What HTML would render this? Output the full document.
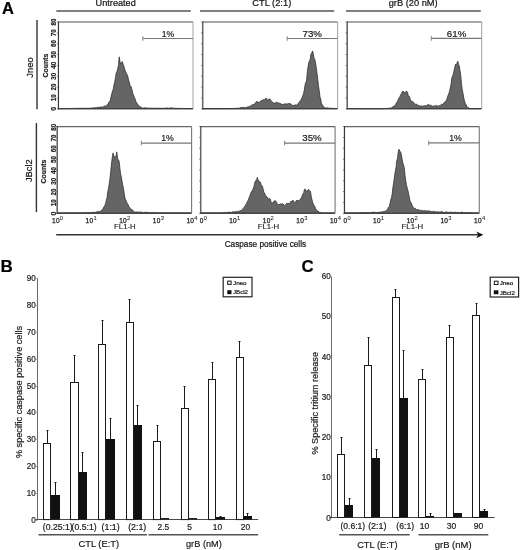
<!DOCTYPE html>
<html><head><meta charset="utf-8"><style>
html,body{margin:0;padding:0;background:#fff;}
svg{display:block;font-family:"Liberation Sans", sans-serif;}
text{-webkit-font-smoothing:antialiased;}
body{will-change:transform;}
svg{filter:blur(0.3px);}
</style></head><body>
<svg width="520" height="550" viewBox="0 0 520 550">
<rect width="520" height="550" fill="#fff"/>
<text x="1.9" y="13.7" font-size="16.5" text-anchor="start" font-weight="bold" fill="#000" stroke="#000" stroke-width="0.2" >A</text>
<text x="95.6" y="6.4" font-size="9.2" text-anchor="start" font-weight="normal" fill="#111" stroke="#111" stroke-width="0.2" textLength="40.2" lengthAdjust="spacingAndGlyphs" >Untreated</text>
<text x="252.25" y="6.4" font-size="9.2" text-anchor="start" font-weight="normal" fill="#111" stroke="#111" stroke-width="0.2" textLength="39.0" lengthAdjust="spacingAndGlyphs" >CTL (2:1)</text>
<text x="388.65" y="6.4" font-size="9.2" text-anchor="start" font-weight="normal" fill="#111" stroke="#111" stroke-width="0.2" textLength="49.0" lengthAdjust="spacingAndGlyphs" >grB (20 nM)</text>
<line x1="56.3" y1="11" x2="190.8" y2="11" stroke="#555" stroke-width="1.5"/>
<line x1="200" y1="11" x2="334.2" y2="11" stroke="#555" stroke-width="1.5"/>
<line x1="346" y1="11" x2="480.8" y2="11" stroke="#555" stroke-width="1.5"/>
<text transform="translate(33.3,67.5) rotate(-90)" font-size="9" text-anchor="middle" font-weight="normal" fill="#111" stroke="#111" stroke-width="0.2" textLength="20.4" lengthAdjust="spacingAndGlyphs" >Jneo</text>
<text transform="translate(32.3,170.7) rotate(-90)" font-size="9" text-anchor="middle" font-weight="normal" fill="#111" stroke="#111" stroke-width="0.2" textLength="22.8" lengthAdjust="spacingAndGlyphs" >JBcl2</text>
<line x1="37" y1="20" x2="37" y2="109.2" stroke="#333" stroke-width="1.4"/>
<line x1="36.4" y1="123" x2="36.4" y2="212.2" stroke="#333" stroke-width="1.4"/>
<path d="M58.5,108.8 L58.50,108.60 L59.25,108.59 L60.00,108.58 L60.75,108.57 L61.50,108.56 L62.25,108.55 L63.00,108.55 L63.75,108.54 L64.50,108.53 L65.25,108.52 L66.00,108.51 L66.75,108.50 L67.50,108.49 L68.25,108.48 L69.00,108.47 L69.75,108.46 L70.50,108.45 L71.25,108.45 L72.00,108.44 L72.75,108.43 L73.50,108.42 L74.25,108.41 L75.00,108.40 L75.75,108.39 L76.50,108.38 L77.25,108.37 L78.00,108.36 L78.75,108.35 L79.50,108.34 L80.25,108.33 L81.00,108.32 L81.75,108.31 L82.50,108.30 L83.25,108.29 L84.00,108.28 L84.75,108.27 L85.50,108.26 L86.25,108.25 L87.00,108.24 L87.75,108.23 L88.50,108.22 L89.25,108.21 L90.00,108.20 L90.75,108.15 L91.50,108.09 L92.25,108.04 L93.00,107.85 L93.75,107.66 L94.50,107.99 L95.25,107.49 L96.00,107.79 L96.75,107.61 L97.50,107.29 L98.25,107.57 L99.00,107.12 L99.75,107.35 L100.50,106.98 L101.25,106.92 L102.00,107.11 L102.75,107.34 L103.50,106.38 L104.25,106.08 L105.00,106.06 L105.75,105.99 L106.50,105.27 L107.25,104.72 L108.00,104.31 L108.75,102.24 L109.50,102.12 L110.25,100.23 L111.00,96.97 L111.75,93.85 L112.50,91.13 L113.25,89.13 L114.00,84.67 L114.75,81.65 L115.50,77.58 L116.25,72.81 L117.00,71.42 L117.75,68.82 L118.50,64.74 L119.25,56.80 L120.00,61.98 L120.75,63.83 L121.50,62.95 L122.25,61.51 L123.00,64.07 L123.75,65.72 L124.50,68.26 L125.25,71.12 L126.00,72.48 L126.75,74.28 L127.50,74.88 L128.25,78.61 L129.00,81.34 L129.75,83.85 L130.50,87.14 L131.25,86.75 L132.00,89.85 L132.75,93.36 L133.50,94.93 L134.25,97.34 L135.00,98.58 L135.75,101.16 L136.50,102.52 L137.25,103.55 L138.00,105.10 L138.75,105.46 L139.50,106.30 L140.25,106.70 L141.00,107.17 L141.75,107.57 L142.50,108.00 L143.25,108.13 L144.00,107.81 L144.75,108.00 L145.50,107.59 L146.25,108.12 L147.00,108.01 L147.75,108.06 L148.50,108.11 L149.25,108.15 L150.00,108.20 L150.75,108.20 L151.50,108.21 L152.25,108.22 L153.00,108.22 L153.75,108.22 L154.50,108.23 L155.25,108.23 L156.00,108.24 L156.75,108.25 L157.50,108.25 L158.25,108.25 L159.00,108.26 L159.75,108.27 L160.50,108.27 L161.25,108.28 L162.00,108.28 L162.75,108.28 L163.50,108.29 L164.25,108.30 L165.00,108.30 L165.75,108.00 L166.50,107.81 L167.25,107.99 L168.00,108.15 L168.75,108.20 L169.50,108.22 L170.25,108.09 L171.00,107.80 L171.75,107.75 L172.50,108.05 L173.25,108.11 L174.00,108.30 L174.75,108.31 L175.50,108.32 L176.25,108.34 L177.00,108.35 L177.75,108.36 L178.50,108.37 L179.25,108.38 L180.00,108.39 L180.75,108.41 L181.50,108.42 L182.25,108.43 L183.00,108.44 L183.75,108.45 L184.50,108.47 L185.25,108.48 L186.00,108.49 L186.75,108.50 L187.50,108.51 L188.25,108.52 L189.00,108.54 L189.75,108.55 L190.50,108.56 L191.25,108.57 L192.00,108.58 L192.75,108.60 L192.8,108.8 Z" fill="#656565" stroke="#2a2a2a" stroke-width="0.75" stroke-linejoin="round"/>
<path d="M203.0,108.8 L203.00,108.60 L203.75,108.60 L204.50,108.60 L205.25,108.60 L206.00,108.60 L206.75,108.60 L207.50,108.60 L208.25,108.60 L209.00,108.60 L209.75,108.60 L210.50,108.60 L211.25,108.60 L212.00,108.60 L212.75,108.60 L213.50,108.60 L214.25,108.60 L215.00,108.60 L215.75,108.60 L216.50,108.60 L217.25,108.60 L218.00,108.60 L218.75,108.60 L219.50,108.60 L220.25,108.60 L221.00,108.60 L221.75,108.60 L222.50,108.60 L223.25,108.60 L224.00,108.60 L224.75,108.60 L225.50,108.60 L226.25,108.60 L227.00,108.60 L227.75,108.60 L228.50,108.60 L229.25,108.60 L230.00,108.60 L230.75,108.57 L231.50,108.53 L232.25,108.50 L233.00,108.47 L233.75,108.44 L234.50,108.40 L235.25,108.37 L236.00,108.34 L236.75,108.31 L237.50,108.27 L238.25,108.24 L239.00,108.21 L239.75,108.01 L240.50,107.54 L241.25,107.85 L242.00,107.15 L242.75,107.67 L243.50,107.25 L244.25,107.44 L245.00,108.09 L245.75,107.27 L246.50,107.42 L247.25,107.08 L248.00,106.88 L248.75,106.72 L249.50,106.26 L250.25,106.47 L251.00,105.43 L251.75,105.18 L252.50,104.59 L253.25,104.44 L254.00,104.21 L254.75,104.08 L255.50,102.77 L256.25,101.70 L257.00,101.11 L257.75,102.79 L258.50,102.35 L259.25,102.36 L260.00,101.46 L260.75,101.19 L261.50,100.30 L262.25,100.39 L263.00,99.77 L263.75,99.62 L264.50,99.60 L265.25,98.88 L266.00,98.00 L266.75,98.41 L267.50,100.61 L268.25,100.34 L269.00,98.89 L269.75,98.91 L270.50,99.58 L271.25,101.13 L272.00,102.15 L272.75,102.04 L273.50,102.73 L274.25,103.89 L275.00,102.81 L275.75,103.02 L276.50,102.04 L277.25,102.72 L278.00,102.73 L278.75,103.01 L279.50,103.28 L280.25,103.50 L281.00,103.77 L281.75,104.34 L282.50,104.62 L283.25,104.35 L284.00,103.64 L284.75,104.25 L285.50,103.64 L286.25,104.04 L287.00,103.75 L287.75,103.90 L288.50,103.49 L289.25,103.65 L290.00,103.40 L290.75,103.91 L291.50,104.39 L292.25,105.36 L293.00,105.85 L293.75,105.06 L294.50,105.16 L295.25,104.82 L296.00,105.18 L296.75,105.37 L297.50,103.90 L298.25,103.74 L299.00,102.47 L299.75,101.18 L300.50,100.94 L301.25,99.24 L302.00,97.83 L302.75,95.99 L303.50,93.41 L304.25,90.47 L305.00,85.27 L305.75,82.16 L306.50,81.04 L307.25,72.69 L308.00,67.12 L308.75,62.87 L309.50,60.64 L310.25,58.96 L311.00,53.68 L311.75,53.24 L312.50,50.92 L313.25,53.37 L314.00,58.14 L314.75,59.18 L315.50,62.87 L316.25,67.68 L317.00,73.13 L317.75,79.55 L318.50,85.97 L319.25,91.12 L320.00,97.11 L320.75,99.17 L321.50,103.64 L322.25,104.62 L323.00,106.19 L323.75,106.41 L324.50,107.89 L325.25,107.83 L326.00,108.10 L326.75,107.89 L327.50,107.68 L328.25,108.02 L329.00,108.12 L329.75,108.21 L330.50,108.25 L331.25,108.28 L332.00,108.32 L332.75,108.36 L333.50,108.40 L334.25,108.44 L335.00,108.48 L335.75,108.52 L336.50,108.55 L337.25,108.59 L337.2,108.8 Z" fill="#656565" stroke="#2a2a2a" stroke-width="0.75" stroke-linejoin="round"/>
<path d="M347.5,108.8 L347.50,108.60 L348.25,108.60 L349.00,108.60 L349.75,108.61 L350.50,108.61 L351.25,108.61 L352.00,108.61 L352.75,108.62 L353.50,108.62 L354.25,108.62 L355.00,108.62 L355.75,108.63 L356.50,108.63 L357.25,108.63 L358.00,108.63 L358.75,108.63 L359.50,108.64 L360.25,108.64 L361.00,108.64 L361.75,108.64 L362.50,108.65 L363.25,108.65 L364.00,108.65 L364.75,108.65 L365.50,108.66 L366.25,108.66 L367.00,108.66 L367.75,108.66 L368.50,108.66 L369.25,108.67 L370.00,108.67 L370.75,108.67 L371.50,108.67 L372.25,108.68 L373.00,108.68 L373.75,108.68 L374.50,108.68 L375.25,108.69 L376.00,108.69 L376.75,108.69 L377.50,108.69 L378.25,108.69 L379.00,108.70 L379.75,108.70 L380.50,108.68 L381.25,108.65 L382.00,108.63 L382.75,108.60 L383.50,108.57 L384.25,108.54 L385.00,108.51 L385.75,108.49 L386.50,108.46 L387.25,108.43 L388.00,108.40 L388.75,108.30 L389.50,108.19 L390.25,108.08 L391.00,107.95 L391.75,107.64 L392.50,106.95 L393.25,107.06 L394.00,105.82 L394.75,105.77 L395.50,105.10 L396.25,102.92 L397.00,102.10 L397.75,100.75 L398.50,98.47 L399.25,97.42 L400.00,96.40 L400.75,94.45 L401.50,93.58 L402.25,91.71 L403.00,91.01 L403.75,91.87 L404.50,93.03 L405.25,92.85 L406.00,91.28 L406.75,91.30 L407.50,92.12 L408.25,95.98 L409.00,95.88 L409.75,97.62 L410.50,100.34 L411.25,101.10 L412.00,101.21 L412.75,101.46 L413.50,102.44 L414.25,103.14 L415.00,103.68 L415.75,104.42 L416.50,103.99 L417.25,105.04 L418.00,105.57 L418.75,105.36 L419.50,105.99 L420.25,106.09 L421.00,105.68 L421.75,106.03 L422.50,106.46 L423.25,105.76 L424.00,106.14 L424.75,105.53 L425.50,105.77 L426.25,105.88 L427.00,105.05 L427.75,104.69 L428.50,104.62 L429.25,105.24 L430.00,104.92 L430.75,105.16 L431.50,105.72 L432.25,106.28 L433.00,106.01 L433.75,105.92 L434.50,106.04 L435.25,105.53 L436.00,105.97 L436.75,105.60 L437.50,106.00 L438.25,106.31 L439.00,105.50 L439.75,105.64 L440.50,105.27 L441.25,104.41 L442.00,104.09 L442.75,104.42 L443.50,103.93 L444.25,102.19 L445.00,102.08 L445.75,101.62 L446.50,99.40 L447.25,98.13 L448.00,95.46 L448.75,93.75 L449.50,91.28 L450.25,88.02 L451.00,84.40 L451.75,78.49 L452.50,75.91 L453.25,74.48 L454.00,70.65 L454.75,67.32 L455.50,64.31 L456.25,64.18 L457.00,63.58 L457.75,61.15 L458.50,64.21 L459.25,65.96 L460.00,70.53 L460.75,75.42 L461.50,84.06 L462.25,89.66 L463.00,93.31 L463.75,97.98 L464.50,100.93 L465.25,103.51 L466.00,104.23 L466.75,106.45 L467.50,107.19 L468.25,107.48 L469.00,108.02 L469.75,108.56 L470.50,108.60 L471.25,108.60 L472.00,108.60 L472.75,108.60 L473.50,108.60 L474.25,108.60 L475.00,108.60 L475.75,108.60 L476.50,108.60 L477.25,108.60 L478.00,108.60 L478.75,108.60 L479.50,108.60 L480.25,108.60 L481.00,108.60 L481.0,108.8 Z" fill="#656565" stroke="#2a2a2a" stroke-width="0.75" stroke-linejoin="round"/>
<path d="M57.5,213.3 L57.50,212.80 L58.25,212.80 L59.00,212.79 L59.75,212.79 L60.50,212.78 L61.25,212.78 L62.00,212.77 L62.75,212.77 L63.50,212.76 L64.25,212.76 L65.00,212.75 L65.75,212.75 L66.50,212.74 L67.25,212.74 L68.00,212.74 L68.75,212.73 L69.50,212.73 L70.25,212.72 L71.00,212.72 L71.75,212.71 L72.50,212.71 L73.25,212.70 L74.00,212.70 L74.75,212.69 L75.50,212.69 L76.25,212.68 L77.00,212.68 L77.75,212.68 L78.50,212.67 L79.25,212.67 L80.00,212.66 L80.75,212.66 L81.50,212.65 L82.25,212.65 L83.00,212.64 L83.75,212.64 L84.50,212.63 L85.25,212.63 L86.00,212.62 L86.75,212.62 L87.50,212.62 L88.25,212.61 L89.00,212.61 L89.75,212.60 L90.50,212.56 L91.25,212.55 L92.00,212.38 L92.75,212.43 L93.50,212.08 L94.25,212.48 L95.00,212.43 L95.75,212.23 L96.50,211.78 L97.25,211.97 L98.00,211.60 L98.75,211.31 L99.50,211.68 L100.25,211.50 L101.00,210.46 L101.75,210.47 L102.50,209.33 L103.25,208.20 L104.00,206.81 L104.75,205.68 L105.50,203.45 L106.25,200.85 L107.00,197.89 L107.75,191.97 L108.50,188.29 L109.25,183.81 L110.00,178.31 L110.75,171.34 L111.50,163.41 L112.25,157.69 L113.00,152.94 L113.75,155.44 L114.50,156.74 L115.25,157.02 L116.00,156.61 L116.75,151.87 L117.50,157.88 L118.25,160.22 L119.00,160.54 L119.75,167.16 L120.50,173.27 L121.25,176.82 L122.00,180.94 L122.75,185.31 L123.50,188.47 L124.25,193.94 L125.00,198.29 L125.75,199.94 L126.50,201.69 L127.25,203.70 L128.00,204.24 L128.75,206.28 L129.50,207.19 L130.25,208.38 L131.00,208.84 L131.75,210.16 L132.50,210.04 L133.25,210.61 L134.00,211.66 L134.75,212.26 L135.50,211.97 L136.25,211.99 L137.00,211.88 L137.75,211.94 L138.50,212.23 L139.25,211.92 L140.00,211.91 L140.75,212.20 L141.50,212.00 L142.25,212.41 L143.00,212.57 L143.75,212.56 L144.50,212.37 L145.25,212.30 L146.00,212.39 L146.75,212.10 L147.50,212.50 L148.25,212.53 L149.00,212.56 L149.75,212.59 L150.50,212.60 L151.25,212.61 L152.00,212.61 L152.75,212.61 L153.50,212.62 L154.25,212.62 L155.00,212.62 L155.75,212.63 L156.50,212.63 L157.25,212.63 L158.00,212.64 L158.75,212.64 L159.50,212.65 L160.25,212.65 L161.00,212.65 L161.75,212.66 L162.50,212.66 L163.25,212.66 L164.00,212.67 L164.75,212.67 L165.50,212.67 L166.25,212.68 L167.00,212.68 L167.75,212.69 L168.50,212.69 L169.25,212.69 L170.00,212.70 L170.75,212.70 L171.50,212.70 L172.25,212.71 L173.00,212.71 L173.75,212.71 L174.50,212.72 L175.25,212.72 L176.00,212.73 L176.75,212.73 L177.50,212.73 L178.25,212.74 L179.00,212.74 L179.75,212.74 L180.50,212.75 L181.25,212.75 L182.00,212.75 L182.75,212.76 L183.50,212.76 L184.25,212.77 L185.00,212.77 L185.75,212.77 L186.50,212.78 L187.25,212.78 L188.00,212.78 L188.75,212.79 L189.50,212.79 L190.25,212.79 L191.00,212.80 L191.0,213.3 Z" fill="#656565" stroke="#2a2a2a" stroke-width="0.75" stroke-linejoin="round"/>
<path d="M201.0,213.3 L201.00,212.80 L201.75,212.80 L202.50,212.80 L203.25,212.80 L204.00,212.80 L204.75,212.80 L205.50,212.80 L206.25,212.80 L207.00,212.80 L207.75,212.80 L208.50,212.80 L209.25,212.80 L210.00,212.80 L210.75,212.80 L211.50,212.80 L212.25,212.80 L213.00,212.80 L213.75,212.80 L214.50,212.80 L215.25,212.80 L216.00,212.80 L216.75,212.80 L217.50,212.80 L218.25,212.80 L219.00,212.80 L219.75,212.80 L220.50,212.76 L221.25,212.71 L222.00,212.66 L222.75,212.61 L223.50,212.55 L224.25,212.50 L225.00,212.41 L225.75,212.44 L226.50,212.67 L227.25,212.27 L228.00,212.31 L228.75,212.37 L229.50,212.06 L230.25,212.31 L231.00,212.40 L231.75,212.53 L232.50,211.85 L233.25,211.87 L234.00,211.55 L234.75,211.99 L235.50,211.75 L236.25,211.07 L237.00,211.74 L237.75,211.64 L238.50,211.28 L239.25,211.16 L240.00,210.67 L240.75,210.45 L241.50,210.62 L242.25,209.39 L243.00,208.72 L243.75,207.88 L244.50,206.41 L245.25,205.70 L246.00,204.22 L246.75,203.28 L247.50,201.28 L248.25,199.93 L249.00,197.77 L249.75,196.13 L250.50,193.88 L251.25,191.73 L252.00,191.60 L252.75,189.85 L253.50,187.71 L254.25,185.25 L255.00,181.95 L255.75,180.51 L256.50,180.68 L257.25,177.36 L258.00,179.73 L258.75,180.40 L259.50,182.66 L260.25,181.86 L261.00,184.36 L261.75,185.46 L262.50,186.20 L263.25,189.73 L264.00,192.80 L264.75,193.34 L265.50,195.89 L266.25,196.29 L267.00,196.69 L267.75,198.20 L268.50,198.95 L269.25,198.57 L270.00,198.78 L270.75,200.66 L271.50,203.40 L272.25,203.73 L273.00,202.11 L273.75,201.60 L274.50,200.99 L275.25,200.54 L276.00,201.32 L276.75,202.56 L277.50,204.94 L278.25,204.66 L279.00,204.18 L279.75,204.75 L280.50,203.79 L281.25,204.29 L282.00,203.40 L282.75,203.93 L283.50,204.37 L284.25,205.17 L285.00,205.60 L285.75,204.65 L286.50,203.23 L287.25,203.77 L288.00,203.10 L288.75,203.64 L289.50,203.60 L290.25,202.56 L291.00,200.99 L291.75,201.88 L292.50,200.38 L293.25,200.42 L294.00,202.19 L294.75,202.53 L295.50,202.14 L296.25,200.80 L297.00,199.99 L297.75,201.04 L298.50,200.79 L299.25,200.84 L300.00,199.42 L300.75,198.42 L301.50,197.85 L302.25,195.47 L303.00,193.84 L303.75,192.52 L304.50,189.26 L305.25,189.19 L306.00,190.95 L306.75,191.22 L307.50,190.74 L308.25,189.48 L309.00,189.66 L309.75,190.70 L310.50,191.51 L311.25,196.52 L312.00,199.86 L312.75,202.49 L313.50,204.48 L314.25,205.56 L315.00,206.99 L315.75,209.20 L316.50,209.70 L317.25,210.99 L318.00,211.07 L318.75,212.00 L319.50,212.27 L320.25,212.53 L321.00,212.62 L321.75,212.71 L322.50,212.80 L323.25,212.80 L324.00,212.80 L324.75,212.80 L325.50,212.80 L326.25,212.80 L327.00,212.80 L327.75,212.80 L328.50,212.80 L329.25,212.80 L330.00,212.80 L330.75,212.80 L331.50,212.80 L332.25,212.80 L333.00,212.80 L333.75,212.80 L334.50,212.80 L334.5,213.3 Z" fill="#656565" stroke="#2a2a2a" stroke-width="0.75" stroke-linejoin="round"/>
<path d="M345.0,213.3 L345.00,212.80 L345.75,212.79 L346.50,212.78 L347.25,212.77 L348.00,212.76 L348.75,212.75 L349.50,212.75 L350.25,212.74 L351.00,212.73 L351.75,212.72 L352.50,212.71 L353.25,212.70 L354.00,212.69 L354.75,212.68 L355.50,212.67 L356.25,212.67 L357.00,212.66 L357.75,212.65 L358.50,212.64 L359.25,212.63 L360.00,212.62 L360.75,212.61 L361.50,212.60 L362.25,212.59 L363.00,212.58 L363.75,212.57 L364.50,212.57 L365.25,212.56 L366.00,212.55 L366.75,212.54 L367.50,212.53 L368.25,212.52 L369.00,212.51 L369.75,212.50 L370.50,212.47 L371.25,212.59 L372.00,212.59 L372.75,212.17 L373.50,212.06 L374.25,212.32 L375.00,212.23 L375.75,212.62 L376.50,212.52 L377.25,212.44 L378.00,212.39 L378.75,212.45 L379.50,212.04 L380.25,212.24 L381.00,211.86 L381.75,212.29 L382.50,211.45 L383.25,211.90 L384.00,211.13 L384.75,211.48 L385.50,210.91 L386.25,210.39 L387.00,210.23 L387.75,208.87 L388.50,207.20 L389.25,206.45 L390.00,203.58 L390.75,199.57 L391.50,197.79 L392.25,193.43 L393.00,186.65 L393.75,182.26 L394.50,176.17 L395.25,171.54 L396.00,167.55 L396.75,160.50 L397.50,158.42 L398.25,151.51 L399.00,149.31 L399.75,151.00 L400.50,151.73 L401.25,153.90 L402.00,158.48 L402.75,162.48 L403.50,165.06 L404.25,167.78 L405.00,175.08 L405.75,180.87 L406.50,185.44 L407.25,188.06 L408.00,190.84 L408.75,194.40 L409.50,198.52 L410.25,201.60 L411.00,202.46 L411.75,204.34 L412.50,206.19 L413.25,207.24 L414.00,208.15 L414.75,208.40 L415.50,208.51 L416.25,209.70 L417.00,209.51 L417.75,209.79 L418.50,209.70 L419.25,210.09 L420.00,210.24 L420.75,210.78 L421.50,210.28 L422.25,210.73 L423.00,210.45 L423.75,210.95 L424.50,210.43 L425.25,210.69 L426.00,210.80 L426.75,211.10 L427.50,210.65 L428.25,211.05 L429.00,210.89 L429.75,211.00 L430.50,211.22 L431.25,211.69 L432.00,211.34 L432.75,211.80 L433.50,211.20 L434.25,211.89 L435.00,211.49 L435.75,211.41 L436.50,211.92 L437.25,212.11 L438.00,211.44 L438.75,211.72 L439.50,212.17 L440.25,211.88 L441.00,211.82 L441.75,211.65 L442.50,211.69 L443.25,212.16 L444.00,212.46 L444.75,212.49 L445.50,212.12 L446.25,211.76 L447.00,212.00 L447.75,212.38 L448.50,212.43 L449.25,212.30 L450.00,212.00 L450.75,212.24 L451.50,212.22 L452.25,212.35 L453.00,212.08 L453.75,212.63 L454.50,212.60 L455.25,212.05 L456.00,212.17 L456.75,212.63 L457.50,212.19 L458.25,212.71 L459.00,212.40 L459.75,212.55 L460.50,212.58 L461.25,212.22 L462.00,212.29 L462.75,212.28 L463.50,212.62 L464.25,212.64 L465.00,212.51 L465.75,212.53 L466.50,212.54 L467.25,212.56 L468.00,212.57 L468.75,212.59 L469.50,212.61 L470.25,212.62 L471.00,212.64 L471.75,212.65 L472.50,212.67 L473.25,212.68 L474.00,212.70 L474.75,212.71 L475.50,212.73 L476.25,212.74 L477.00,212.76 L477.75,212.77 L478.50,212.79 L478.5,213.3 Z" fill="#656565" stroke="#2a2a2a" stroke-width="0.75" stroke-linejoin="round"/>
<line x1="58.5" y1="22" x2="193" y2="22" stroke="#8a8a8a" stroke-width="1.3"/>
<line x1="193" y1="22" x2="193" y2="108.8" stroke="#aaa" stroke-width="1.1"/>
<line x1="58.5" y1="21.5" x2="58.5" y2="109.39999999999999" stroke="#333" stroke-width="1.1"/>
<line x1="58.5" y1="108.8" x2="193" y2="108.8" stroke="#3a3a3a" stroke-width="1.1"/>
<line x1="56.9" y1="108.8" x2="58.5" y2="108.8" stroke="#444" stroke-width="0.7"/>
<line x1="56.9" y1="97.95" x2="58.5" y2="97.95" stroke="#444" stroke-width="0.7"/>
<line x1="56.9" y1="87.1" x2="58.5" y2="87.1" stroke="#444" stroke-width="0.7"/>
<line x1="56.9" y1="76.25" x2="58.5" y2="76.25" stroke="#444" stroke-width="0.7"/>
<line x1="56.9" y1="65.4" x2="58.5" y2="65.4" stroke="#444" stroke-width="0.7"/>
<line x1="56.9" y1="54.55" x2="58.5" y2="54.55" stroke="#444" stroke-width="0.7"/>
<line x1="56.9" y1="43.7" x2="58.5" y2="43.7" stroke="#444" stroke-width="0.7"/>
<line x1="56.9" y1="32.849999999999994" x2="58.5" y2="32.849999999999994" stroke="#444" stroke-width="0.7"/>
<line x1="56.9" y1="22.0" x2="58.5" y2="22.0" stroke="#444" stroke-width="0.7"/>
<line x1="57.5" y1="108.8" x2="58.5" y2="108.8" stroke="#666" stroke-width="0.6"/>
<line x1="57.5" y1="106.63" x2="58.5" y2="106.63" stroke="#666" stroke-width="0.6"/>
<line x1="57.5" y1="104.46" x2="58.5" y2="104.46" stroke="#666" stroke-width="0.6"/>
<line x1="57.5" y1="102.28999999999999" x2="58.5" y2="102.28999999999999" stroke="#666" stroke-width="0.6"/>
<line x1="57.5" y1="100.12" x2="58.5" y2="100.12" stroke="#666" stroke-width="0.6"/>
<line x1="57.5" y1="97.95" x2="58.5" y2="97.95" stroke="#666" stroke-width="0.6"/>
<line x1="57.5" y1="95.78" x2="58.5" y2="95.78" stroke="#666" stroke-width="0.6"/>
<line x1="57.5" y1="93.61" x2="58.5" y2="93.61" stroke="#666" stroke-width="0.6"/>
<line x1="57.5" y1="91.44" x2="58.5" y2="91.44" stroke="#666" stroke-width="0.6"/>
<line x1="57.5" y1="89.27" x2="58.5" y2="89.27" stroke="#666" stroke-width="0.6"/>
<line x1="57.5" y1="87.1" x2="58.5" y2="87.1" stroke="#666" stroke-width="0.6"/>
<line x1="57.5" y1="84.93" x2="58.5" y2="84.93" stroke="#666" stroke-width="0.6"/>
<line x1="57.5" y1="82.75999999999999" x2="58.5" y2="82.75999999999999" stroke="#666" stroke-width="0.6"/>
<line x1="57.5" y1="80.59" x2="58.5" y2="80.59" stroke="#666" stroke-width="0.6"/>
<line x1="57.5" y1="78.41999999999999" x2="58.5" y2="78.41999999999999" stroke="#666" stroke-width="0.6"/>
<line x1="57.5" y1="76.25" x2="58.5" y2="76.25" stroke="#666" stroke-width="0.6"/>
<line x1="57.5" y1="74.08" x2="58.5" y2="74.08" stroke="#666" stroke-width="0.6"/>
<line x1="57.5" y1="71.91" x2="58.5" y2="71.91" stroke="#666" stroke-width="0.6"/>
<line x1="57.5" y1="69.74000000000001" x2="58.5" y2="69.74000000000001" stroke="#666" stroke-width="0.6"/>
<line x1="57.5" y1="67.57" x2="58.5" y2="67.57" stroke="#666" stroke-width="0.6"/>
<line x1="57.5" y1="65.4" x2="58.5" y2="65.4" stroke="#666" stroke-width="0.6"/>
<line x1="57.5" y1="63.23" x2="58.5" y2="63.23" stroke="#666" stroke-width="0.6"/>
<line x1="57.5" y1="61.06" x2="58.5" y2="61.06" stroke="#666" stroke-width="0.6"/>
<line x1="57.5" y1="58.89" x2="58.5" y2="58.89" stroke="#666" stroke-width="0.6"/>
<line x1="57.5" y1="56.72" x2="58.5" y2="56.72" stroke="#666" stroke-width="0.6"/>
<line x1="57.5" y1="54.55" x2="58.5" y2="54.55" stroke="#666" stroke-width="0.6"/>
<line x1="57.5" y1="52.38" x2="58.5" y2="52.38" stroke="#666" stroke-width="0.6"/>
<line x1="57.5" y1="50.21" x2="58.5" y2="50.21" stroke="#666" stroke-width="0.6"/>
<line x1="57.5" y1="48.03999999999999" x2="58.5" y2="48.03999999999999" stroke="#666" stroke-width="0.6"/>
<line x1="57.5" y1="45.870000000000005" x2="58.5" y2="45.870000000000005" stroke="#666" stroke-width="0.6"/>
<line x1="57.5" y1="43.7" x2="58.5" y2="43.7" stroke="#666" stroke-width="0.6"/>
<line x1="57.5" y1="41.53" x2="58.5" y2="41.53" stroke="#666" stroke-width="0.6"/>
<line x1="57.5" y1="39.36" x2="58.5" y2="39.36" stroke="#666" stroke-width="0.6"/>
<line x1="57.5" y1="37.19" x2="58.5" y2="37.19" stroke="#666" stroke-width="0.6"/>
<line x1="57.5" y1="35.019999999999996" x2="58.5" y2="35.019999999999996" stroke="#666" stroke-width="0.6"/>
<line x1="57.5" y1="32.849999999999994" x2="58.5" y2="32.849999999999994" stroke="#666" stroke-width="0.6"/>
<line x1="57.5" y1="30.680000000000007" x2="58.5" y2="30.680000000000007" stroke="#666" stroke-width="0.6"/>
<line x1="57.5" y1="28.510000000000005" x2="58.5" y2="28.510000000000005" stroke="#666" stroke-width="0.6"/>
<line x1="57.5" y1="26.33999999999999" x2="58.5" y2="26.33999999999999" stroke="#666" stroke-width="0.6"/>
<line x1="57.5" y1="24.17" x2="58.5" y2="24.17" stroke="#666" stroke-width="0.6"/>
<line x1="202.8" y1="22" x2="337.6" y2="22" stroke="#8a8a8a" stroke-width="1.3"/>
<line x1="337.6" y1="22" x2="337.6" y2="108.8" stroke="#aaa" stroke-width="1.1"/>
<line x1="202.8" y1="21.5" x2="202.8" y2="109.39999999999999" stroke="#333" stroke-width="1.1"/>
<line x1="202.8" y1="108.8" x2="337.6" y2="108.8" stroke="#3a3a3a" stroke-width="1.1"/>
<line x1="201.20000000000002" y1="108.8" x2="202.8" y2="108.8" stroke="#444" stroke-width="0.7"/>
<line x1="201.20000000000002" y1="97.95" x2="202.8" y2="97.95" stroke="#444" stroke-width="0.7"/>
<line x1="201.20000000000002" y1="87.1" x2="202.8" y2="87.1" stroke="#444" stroke-width="0.7"/>
<line x1="201.20000000000002" y1="76.25" x2="202.8" y2="76.25" stroke="#444" stroke-width="0.7"/>
<line x1="201.20000000000002" y1="65.4" x2="202.8" y2="65.4" stroke="#444" stroke-width="0.7"/>
<line x1="201.20000000000002" y1="54.55" x2="202.8" y2="54.55" stroke="#444" stroke-width="0.7"/>
<line x1="201.20000000000002" y1="43.7" x2="202.8" y2="43.7" stroke="#444" stroke-width="0.7"/>
<line x1="201.20000000000002" y1="32.849999999999994" x2="202.8" y2="32.849999999999994" stroke="#444" stroke-width="0.7"/>
<line x1="201.20000000000002" y1="22.0" x2="202.8" y2="22.0" stroke="#444" stroke-width="0.7"/>
<line x1="201.8" y1="108.8" x2="202.8" y2="108.8" stroke="#666" stroke-width="0.6"/>
<line x1="201.8" y1="106.63" x2="202.8" y2="106.63" stroke="#666" stroke-width="0.6"/>
<line x1="201.8" y1="104.46" x2="202.8" y2="104.46" stroke="#666" stroke-width="0.6"/>
<line x1="201.8" y1="102.28999999999999" x2="202.8" y2="102.28999999999999" stroke="#666" stroke-width="0.6"/>
<line x1="201.8" y1="100.12" x2="202.8" y2="100.12" stroke="#666" stroke-width="0.6"/>
<line x1="201.8" y1="97.95" x2="202.8" y2="97.95" stroke="#666" stroke-width="0.6"/>
<line x1="201.8" y1="95.78" x2="202.8" y2="95.78" stroke="#666" stroke-width="0.6"/>
<line x1="201.8" y1="93.61" x2="202.8" y2="93.61" stroke="#666" stroke-width="0.6"/>
<line x1="201.8" y1="91.44" x2="202.8" y2="91.44" stroke="#666" stroke-width="0.6"/>
<line x1="201.8" y1="89.27" x2="202.8" y2="89.27" stroke="#666" stroke-width="0.6"/>
<line x1="201.8" y1="87.1" x2="202.8" y2="87.1" stroke="#666" stroke-width="0.6"/>
<line x1="201.8" y1="84.93" x2="202.8" y2="84.93" stroke="#666" stroke-width="0.6"/>
<line x1="201.8" y1="82.75999999999999" x2="202.8" y2="82.75999999999999" stroke="#666" stroke-width="0.6"/>
<line x1="201.8" y1="80.59" x2="202.8" y2="80.59" stroke="#666" stroke-width="0.6"/>
<line x1="201.8" y1="78.41999999999999" x2="202.8" y2="78.41999999999999" stroke="#666" stroke-width="0.6"/>
<line x1="201.8" y1="76.25" x2="202.8" y2="76.25" stroke="#666" stroke-width="0.6"/>
<line x1="201.8" y1="74.08" x2="202.8" y2="74.08" stroke="#666" stroke-width="0.6"/>
<line x1="201.8" y1="71.91" x2="202.8" y2="71.91" stroke="#666" stroke-width="0.6"/>
<line x1="201.8" y1="69.74000000000001" x2="202.8" y2="69.74000000000001" stroke="#666" stroke-width="0.6"/>
<line x1="201.8" y1="67.57" x2="202.8" y2="67.57" stroke="#666" stroke-width="0.6"/>
<line x1="201.8" y1="65.4" x2="202.8" y2="65.4" stroke="#666" stroke-width="0.6"/>
<line x1="201.8" y1="63.23" x2="202.8" y2="63.23" stroke="#666" stroke-width="0.6"/>
<line x1="201.8" y1="61.06" x2="202.8" y2="61.06" stroke="#666" stroke-width="0.6"/>
<line x1="201.8" y1="58.89" x2="202.8" y2="58.89" stroke="#666" stroke-width="0.6"/>
<line x1="201.8" y1="56.72" x2="202.8" y2="56.72" stroke="#666" stroke-width="0.6"/>
<line x1="201.8" y1="54.55" x2="202.8" y2="54.55" stroke="#666" stroke-width="0.6"/>
<line x1="201.8" y1="52.38" x2="202.8" y2="52.38" stroke="#666" stroke-width="0.6"/>
<line x1="201.8" y1="50.21" x2="202.8" y2="50.21" stroke="#666" stroke-width="0.6"/>
<line x1="201.8" y1="48.03999999999999" x2="202.8" y2="48.03999999999999" stroke="#666" stroke-width="0.6"/>
<line x1="201.8" y1="45.870000000000005" x2="202.8" y2="45.870000000000005" stroke="#666" stroke-width="0.6"/>
<line x1="201.8" y1="43.7" x2="202.8" y2="43.7" stroke="#666" stroke-width="0.6"/>
<line x1="201.8" y1="41.53" x2="202.8" y2="41.53" stroke="#666" stroke-width="0.6"/>
<line x1="201.8" y1="39.36" x2="202.8" y2="39.36" stroke="#666" stroke-width="0.6"/>
<line x1="201.8" y1="37.19" x2="202.8" y2="37.19" stroke="#666" stroke-width="0.6"/>
<line x1="201.8" y1="35.019999999999996" x2="202.8" y2="35.019999999999996" stroke="#666" stroke-width="0.6"/>
<line x1="201.8" y1="32.849999999999994" x2="202.8" y2="32.849999999999994" stroke="#666" stroke-width="0.6"/>
<line x1="201.8" y1="30.680000000000007" x2="202.8" y2="30.680000000000007" stroke="#666" stroke-width="0.6"/>
<line x1="201.8" y1="28.510000000000005" x2="202.8" y2="28.510000000000005" stroke="#666" stroke-width="0.6"/>
<line x1="201.8" y1="26.33999999999999" x2="202.8" y2="26.33999999999999" stroke="#666" stroke-width="0.6"/>
<line x1="201.8" y1="24.17" x2="202.8" y2="24.17" stroke="#666" stroke-width="0.6"/>
<line x1="347.2" y1="22" x2="481.7" y2="22" stroke="#8a8a8a" stroke-width="1.3"/>
<line x1="481.7" y1="22" x2="481.7" y2="108.8" stroke="#aaa" stroke-width="1.1"/>
<line x1="347.2" y1="21.5" x2="347.2" y2="109.39999999999999" stroke="#333" stroke-width="1.1"/>
<line x1="347.2" y1="108.8" x2="481.7" y2="108.8" stroke="#3a3a3a" stroke-width="1.1"/>
<line x1="345.59999999999997" y1="108.8" x2="347.2" y2="108.8" stroke="#444" stroke-width="0.7"/>
<line x1="345.59999999999997" y1="97.95" x2="347.2" y2="97.95" stroke="#444" stroke-width="0.7"/>
<line x1="345.59999999999997" y1="87.1" x2="347.2" y2="87.1" stroke="#444" stroke-width="0.7"/>
<line x1="345.59999999999997" y1="76.25" x2="347.2" y2="76.25" stroke="#444" stroke-width="0.7"/>
<line x1="345.59999999999997" y1="65.4" x2="347.2" y2="65.4" stroke="#444" stroke-width="0.7"/>
<line x1="345.59999999999997" y1="54.55" x2="347.2" y2="54.55" stroke="#444" stroke-width="0.7"/>
<line x1="345.59999999999997" y1="43.7" x2="347.2" y2="43.7" stroke="#444" stroke-width="0.7"/>
<line x1="345.59999999999997" y1="32.849999999999994" x2="347.2" y2="32.849999999999994" stroke="#444" stroke-width="0.7"/>
<line x1="345.59999999999997" y1="22.0" x2="347.2" y2="22.0" stroke="#444" stroke-width="0.7"/>
<line x1="346.2" y1="108.8" x2="347.2" y2="108.8" stroke="#666" stroke-width="0.6"/>
<line x1="346.2" y1="106.63" x2="347.2" y2="106.63" stroke="#666" stroke-width="0.6"/>
<line x1="346.2" y1="104.46" x2="347.2" y2="104.46" stroke="#666" stroke-width="0.6"/>
<line x1="346.2" y1="102.28999999999999" x2="347.2" y2="102.28999999999999" stroke="#666" stroke-width="0.6"/>
<line x1="346.2" y1="100.12" x2="347.2" y2="100.12" stroke="#666" stroke-width="0.6"/>
<line x1="346.2" y1="97.95" x2="347.2" y2="97.95" stroke="#666" stroke-width="0.6"/>
<line x1="346.2" y1="95.78" x2="347.2" y2="95.78" stroke="#666" stroke-width="0.6"/>
<line x1="346.2" y1="93.61" x2="347.2" y2="93.61" stroke="#666" stroke-width="0.6"/>
<line x1="346.2" y1="91.44" x2="347.2" y2="91.44" stroke="#666" stroke-width="0.6"/>
<line x1="346.2" y1="89.27" x2="347.2" y2="89.27" stroke="#666" stroke-width="0.6"/>
<line x1="346.2" y1="87.1" x2="347.2" y2="87.1" stroke="#666" stroke-width="0.6"/>
<line x1="346.2" y1="84.93" x2="347.2" y2="84.93" stroke="#666" stroke-width="0.6"/>
<line x1="346.2" y1="82.75999999999999" x2="347.2" y2="82.75999999999999" stroke="#666" stroke-width="0.6"/>
<line x1="346.2" y1="80.59" x2="347.2" y2="80.59" stroke="#666" stroke-width="0.6"/>
<line x1="346.2" y1="78.41999999999999" x2="347.2" y2="78.41999999999999" stroke="#666" stroke-width="0.6"/>
<line x1="346.2" y1="76.25" x2="347.2" y2="76.25" stroke="#666" stroke-width="0.6"/>
<line x1="346.2" y1="74.08" x2="347.2" y2="74.08" stroke="#666" stroke-width="0.6"/>
<line x1="346.2" y1="71.91" x2="347.2" y2="71.91" stroke="#666" stroke-width="0.6"/>
<line x1="346.2" y1="69.74000000000001" x2="347.2" y2="69.74000000000001" stroke="#666" stroke-width="0.6"/>
<line x1="346.2" y1="67.57" x2="347.2" y2="67.57" stroke="#666" stroke-width="0.6"/>
<line x1="346.2" y1="65.4" x2="347.2" y2="65.4" stroke="#666" stroke-width="0.6"/>
<line x1="346.2" y1="63.23" x2="347.2" y2="63.23" stroke="#666" stroke-width="0.6"/>
<line x1="346.2" y1="61.06" x2="347.2" y2="61.06" stroke="#666" stroke-width="0.6"/>
<line x1="346.2" y1="58.89" x2="347.2" y2="58.89" stroke="#666" stroke-width="0.6"/>
<line x1="346.2" y1="56.72" x2="347.2" y2="56.72" stroke="#666" stroke-width="0.6"/>
<line x1="346.2" y1="54.55" x2="347.2" y2="54.55" stroke="#666" stroke-width="0.6"/>
<line x1="346.2" y1="52.38" x2="347.2" y2="52.38" stroke="#666" stroke-width="0.6"/>
<line x1="346.2" y1="50.21" x2="347.2" y2="50.21" stroke="#666" stroke-width="0.6"/>
<line x1="346.2" y1="48.03999999999999" x2="347.2" y2="48.03999999999999" stroke="#666" stroke-width="0.6"/>
<line x1="346.2" y1="45.870000000000005" x2="347.2" y2="45.870000000000005" stroke="#666" stroke-width="0.6"/>
<line x1="346.2" y1="43.7" x2="347.2" y2="43.7" stroke="#666" stroke-width="0.6"/>
<line x1="346.2" y1="41.53" x2="347.2" y2="41.53" stroke="#666" stroke-width="0.6"/>
<line x1="346.2" y1="39.36" x2="347.2" y2="39.36" stroke="#666" stroke-width="0.6"/>
<line x1="346.2" y1="37.19" x2="347.2" y2="37.19" stroke="#666" stroke-width="0.6"/>
<line x1="346.2" y1="35.019999999999996" x2="347.2" y2="35.019999999999996" stroke="#666" stroke-width="0.6"/>
<line x1="346.2" y1="32.849999999999994" x2="347.2" y2="32.849999999999994" stroke="#666" stroke-width="0.6"/>
<line x1="346.2" y1="30.680000000000007" x2="347.2" y2="30.680000000000007" stroke="#666" stroke-width="0.6"/>
<line x1="346.2" y1="28.510000000000005" x2="347.2" y2="28.510000000000005" stroke="#666" stroke-width="0.6"/>
<line x1="346.2" y1="26.33999999999999" x2="347.2" y2="26.33999999999999" stroke="#666" stroke-width="0.6"/>
<line x1="346.2" y1="24.17" x2="347.2" y2="24.17" stroke="#666" stroke-width="0.6"/>
<text transform="translate(55.8,108.7) rotate(-90)" font-size="7.0" text-anchor="middle" font-weight="bold" fill="#1a1a1a" stroke="#1a1a1a" stroke-width="0.2" >0</text>
<text transform="translate(55.8,97.85000000000001) rotate(-90)" font-size="7.0" text-anchor="middle" font-weight="bold" fill="#1a1a1a" stroke="#1a1a1a" stroke-width="0.2" textLength="7.0" lengthAdjust="spacingAndGlyphs" >10</text>
<text transform="translate(55.8,87.0) rotate(-90)" font-size="7.0" text-anchor="middle" font-weight="bold" fill="#1a1a1a" stroke="#1a1a1a" stroke-width="0.2" textLength="7.0" lengthAdjust="spacingAndGlyphs" >20</text>
<text transform="translate(55.8,76.15) rotate(-90)" font-size="7.0" text-anchor="middle" font-weight="bold" fill="#1a1a1a" stroke="#1a1a1a" stroke-width="0.2" textLength="7.0" lengthAdjust="spacingAndGlyphs" >30</text>
<text transform="translate(55.8,65.30000000000001) rotate(-90)" font-size="7.0" text-anchor="middle" font-weight="bold" fill="#1a1a1a" stroke="#1a1a1a" stroke-width="0.2" textLength="7.0" lengthAdjust="spacingAndGlyphs" >40</text>
<text transform="translate(55.8,54.45) rotate(-90)" font-size="7.0" text-anchor="middle" font-weight="bold" fill="#1a1a1a" stroke="#1a1a1a" stroke-width="0.2" textLength="7.0" lengthAdjust="spacingAndGlyphs" >50</text>
<text transform="translate(55.8,43.60000000000001) rotate(-90)" font-size="7.0" text-anchor="middle" font-weight="bold" fill="#1a1a1a" stroke="#1a1a1a" stroke-width="0.2" textLength="7.0" lengthAdjust="spacingAndGlyphs" >60</text>
<text transform="translate(55.8,32.75) rotate(-90)" font-size="7.0" text-anchor="middle" font-weight="bold" fill="#1a1a1a" stroke="#1a1a1a" stroke-width="0.2" textLength="7.0" lengthAdjust="spacingAndGlyphs" >70</text>
<text transform="translate(55.8,21.900000000000006) rotate(-90)" font-size="7.0" text-anchor="middle" font-weight="bold" fill="#1a1a1a" stroke="#1a1a1a" stroke-width="0.2" textLength="7.0" lengthAdjust="spacingAndGlyphs" >80</text>
<text transform="translate(48.0,65.5) rotate(-90)" font-size="7" text-anchor="middle" font-weight="bold" fill="#222" stroke="#222" stroke-width="0.2" textLength="24" lengthAdjust="spacingAndGlyphs" >Counts</text>
<line x1="57.2" y1="126.6" x2="191.6" y2="126.6" stroke="#666" stroke-width="1.2"/>
<line x1="191.6" y1="126.6" x2="191.6" y2="213.3" stroke="#777" stroke-width="1.1"/>
<line x1="57.2" y1="126.1" x2="57.2" y2="213.9" stroke="#333" stroke-width="1.1"/>
<line x1="57.2" y1="213.3" x2="191.6" y2="213.3" stroke="#3a3a3a" stroke-width="1.1"/>
<line x1="55.6" y1="213.3" x2="57.2" y2="213.3" stroke="#444" stroke-width="0.7"/>
<line x1="55.6" y1="202.4625" x2="57.2" y2="202.4625" stroke="#444" stroke-width="0.7"/>
<line x1="55.6" y1="191.625" x2="57.2" y2="191.625" stroke="#444" stroke-width="0.7"/>
<line x1="55.6" y1="180.78750000000002" x2="57.2" y2="180.78750000000002" stroke="#444" stroke-width="0.7"/>
<line x1="55.6" y1="169.95" x2="57.2" y2="169.95" stroke="#444" stroke-width="0.7"/>
<line x1="55.6" y1="159.1125" x2="57.2" y2="159.1125" stroke="#444" stroke-width="0.7"/>
<line x1="55.6" y1="148.275" x2="57.2" y2="148.275" stroke="#444" stroke-width="0.7"/>
<line x1="55.6" y1="137.4375" x2="57.2" y2="137.4375" stroke="#444" stroke-width="0.7"/>
<line x1="55.6" y1="126.6" x2="57.2" y2="126.6" stroke="#444" stroke-width="0.7"/>
<line x1="56.2" y1="213.3" x2="57.2" y2="213.3" stroke="#666" stroke-width="0.6"/>
<line x1="56.2" y1="211.13250000000002" x2="57.2" y2="211.13250000000002" stroke="#666" stroke-width="0.6"/>
<line x1="56.2" y1="208.965" x2="57.2" y2="208.965" stroke="#666" stroke-width="0.6"/>
<line x1="56.2" y1="206.7975" x2="57.2" y2="206.7975" stroke="#666" stroke-width="0.6"/>
<line x1="56.2" y1="204.63" x2="57.2" y2="204.63" stroke="#666" stroke-width="0.6"/>
<line x1="56.2" y1="202.4625" x2="57.2" y2="202.4625" stroke="#666" stroke-width="0.6"/>
<line x1="56.2" y1="200.29500000000002" x2="57.2" y2="200.29500000000002" stroke="#666" stroke-width="0.6"/>
<line x1="56.2" y1="198.1275" x2="57.2" y2="198.1275" stroke="#666" stroke-width="0.6"/>
<line x1="56.2" y1="195.96" x2="57.2" y2="195.96" stroke="#666" stroke-width="0.6"/>
<line x1="56.2" y1="193.79250000000002" x2="57.2" y2="193.79250000000002" stroke="#666" stroke-width="0.6"/>
<line x1="56.2" y1="191.625" x2="57.2" y2="191.625" stroke="#666" stroke-width="0.6"/>
<line x1="56.2" y1="189.4575" x2="57.2" y2="189.4575" stroke="#666" stroke-width="0.6"/>
<line x1="56.2" y1="187.29000000000002" x2="57.2" y2="187.29000000000002" stroke="#666" stroke-width="0.6"/>
<line x1="56.2" y1="185.1225" x2="57.2" y2="185.1225" stroke="#666" stroke-width="0.6"/>
<line x1="56.2" y1="182.955" x2="57.2" y2="182.955" stroke="#666" stroke-width="0.6"/>
<line x1="56.2" y1="180.78750000000002" x2="57.2" y2="180.78750000000002" stroke="#666" stroke-width="0.6"/>
<line x1="56.2" y1="178.62" x2="57.2" y2="178.62" stroke="#666" stroke-width="0.6"/>
<line x1="56.2" y1="176.4525" x2="57.2" y2="176.4525" stroke="#666" stroke-width="0.6"/>
<line x1="56.2" y1="174.285" x2="57.2" y2="174.285" stroke="#666" stroke-width="0.6"/>
<line x1="56.2" y1="172.1175" x2="57.2" y2="172.1175" stroke="#666" stroke-width="0.6"/>
<line x1="56.2" y1="169.95" x2="57.2" y2="169.95" stroke="#666" stroke-width="0.6"/>
<line x1="56.2" y1="167.7825" x2="57.2" y2="167.7825" stroke="#666" stroke-width="0.6"/>
<line x1="56.2" y1="165.615" x2="57.2" y2="165.615" stroke="#666" stroke-width="0.6"/>
<line x1="56.2" y1="163.4475" x2="57.2" y2="163.4475" stroke="#666" stroke-width="0.6"/>
<line x1="56.2" y1="161.28" x2="57.2" y2="161.28" stroke="#666" stroke-width="0.6"/>
<line x1="56.2" y1="159.1125" x2="57.2" y2="159.1125" stroke="#666" stroke-width="0.6"/>
<line x1="56.2" y1="156.945" x2="57.2" y2="156.945" stroke="#666" stroke-width="0.6"/>
<line x1="56.2" y1="154.7775" x2="57.2" y2="154.7775" stroke="#666" stroke-width="0.6"/>
<line x1="56.2" y1="152.61" x2="57.2" y2="152.61" stroke="#666" stroke-width="0.6"/>
<line x1="56.2" y1="150.4425" x2="57.2" y2="150.4425" stroke="#666" stroke-width="0.6"/>
<line x1="56.2" y1="148.275" x2="57.2" y2="148.275" stroke="#666" stroke-width="0.6"/>
<line x1="56.2" y1="146.1075" x2="57.2" y2="146.1075" stroke="#666" stroke-width="0.6"/>
<line x1="56.2" y1="143.94" x2="57.2" y2="143.94" stroke="#666" stroke-width="0.6"/>
<line x1="56.2" y1="141.7725" x2="57.2" y2="141.7725" stroke="#666" stroke-width="0.6"/>
<line x1="56.2" y1="139.605" x2="57.2" y2="139.605" stroke="#666" stroke-width="0.6"/>
<line x1="56.2" y1="137.4375" x2="57.2" y2="137.4375" stroke="#666" stroke-width="0.6"/>
<line x1="56.2" y1="135.26999999999998" x2="57.2" y2="135.26999999999998" stroke="#666" stroke-width="0.6"/>
<line x1="56.2" y1="133.1025" x2="57.2" y2="133.1025" stroke="#666" stroke-width="0.6"/>
<line x1="56.2" y1="130.935" x2="57.2" y2="130.935" stroke="#666" stroke-width="0.6"/>
<line x1="56.2" y1="128.76749999999998" x2="57.2" y2="128.76749999999998" stroke="#666" stroke-width="0.6"/>
<line x1="200.8" y1="126.6" x2="335.1" y2="126.6" stroke="#666" stroke-width="1.2"/>
<line x1="335.1" y1="126.6" x2="335.1" y2="213.3" stroke="#777" stroke-width="1.1"/>
<line x1="200.8" y1="126.1" x2="200.8" y2="213.9" stroke="#333" stroke-width="1.1"/>
<line x1="200.8" y1="213.3" x2="335.1" y2="213.3" stroke="#3a3a3a" stroke-width="1.1"/>
<line x1="199.20000000000002" y1="213.3" x2="200.8" y2="213.3" stroke="#444" stroke-width="0.7"/>
<line x1="199.20000000000002" y1="202.4625" x2="200.8" y2="202.4625" stroke="#444" stroke-width="0.7"/>
<line x1="199.20000000000002" y1="191.625" x2="200.8" y2="191.625" stroke="#444" stroke-width="0.7"/>
<line x1="199.20000000000002" y1="180.78750000000002" x2="200.8" y2="180.78750000000002" stroke="#444" stroke-width="0.7"/>
<line x1="199.20000000000002" y1="169.95" x2="200.8" y2="169.95" stroke="#444" stroke-width="0.7"/>
<line x1="199.20000000000002" y1="159.1125" x2="200.8" y2="159.1125" stroke="#444" stroke-width="0.7"/>
<line x1="199.20000000000002" y1="148.275" x2="200.8" y2="148.275" stroke="#444" stroke-width="0.7"/>
<line x1="199.20000000000002" y1="137.4375" x2="200.8" y2="137.4375" stroke="#444" stroke-width="0.7"/>
<line x1="199.20000000000002" y1="126.6" x2="200.8" y2="126.6" stroke="#444" stroke-width="0.7"/>
<line x1="199.8" y1="213.3" x2="200.8" y2="213.3" stroke="#666" stroke-width="0.6"/>
<line x1="199.8" y1="211.13250000000002" x2="200.8" y2="211.13250000000002" stroke="#666" stroke-width="0.6"/>
<line x1="199.8" y1="208.965" x2="200.8" y2="208.965" stroke="#666" stroke-width="0.6"/>
<line x1="199.8" y1="206.7975" x2="200.8" y2="206.7975" stroke="#666" stroke-width="0.6"/>
<line x1="199.8" y1="204.63" x2="200.8" y2="204.63" stroke="#666" stroke-width="0.6"/>
<line x1="199.8" y1="202.4625" x2="200.8" y2="202.4625" stroke="#666" stroke-width="0.6"/>
<line x1="199.8" y1="200.29500000000002" x2="200.8" y2="200.29500000000002" stroke="#666" stroke-width="0.6"/>
<line x1="199.8" y1="198.1275" x2="200.8" y2="198.1275" stroke="#666" stroke-width="0.6"/>
<line x1="199.8" y1="195.96" x2="200.8" y2="195.96" stroke="#666" stroke-width="0.6"/>
<line x1="199.8" y1="193.79250000000002" x2="200.8" y2="193.79250000000002" stroke="#666" stroke-width="0.6"/>
<line x1="199.8" y1="191.625" x2="200.8" y2="191.625" stroke="#666" stroke-width="0.6"/>
<line x1="199.8" y1="189.4575" x2="200.8" y2="189.4575" stroke="#666" stroke-width="0.6"/>
<line x1="199.8" y1="187.29000000000002" x2="200.8" y2="187.29000000000002" stroke="#666" stroke-width="0.6"/>
<line x1="199.8" y1="185.1225" x2="200.8" y2="185.1225" stroke="#666" stroke-width="0.6"/>
<line x1="199.8" y1="182.955" x2="200.8" y2="182.955" stroke="#666" stroke-width="0.6"/>
<line x1="199.8" y1="180.78750000000002" x2="200.8" y2="180.78750000000002" stroke="#666" stroke-width="0.6"/>
<line x1="199.8" y1="178.62" x2="200.8" y2="178.62" stroke="#666" stroke-width="0.6"/>
<line x1="199.8" y1="176.4525" x2="200.8" y2="176.4525" stroke="#666" stroke-width="0.6"/>
<line x1="199.8" y1="174.285" x2="200.8" y2="174.285" stroke="#666" stroke-width="0.6"/>
<line x1="199.8" y1="172.1175" x2="200.8" y2="172.1175" stroke="#666" stroke-width="0.6"/>
<line x1="199.8" y1="169.95" x2="200.8" y2="169.95" stroke="#666" stroke-width="0.6"/>
<line x1="199.8" y1="167.7825" x2="200.8" y2="167.7825" stroke="#666" stroke-width="0.6"/>
<line x1="199.8" y1="165.615" x2="200.8" y2="165.615" stroke="#666" stroke-width="0.6"/>
<line x1="199.8" y1="163.4475" x2="200.8" y2="163.4475" stroke="#666" stroke-width="0.6"/>
<line x1="199.8" y1="161.28" x2="200.8" y2="161.28" stroke="#666" stroke-width="0.6"/>
<line x1="199.8" y1="159.1125" x2="200.8" y2="159.1125" stroke="#666" stroke-width="0.6"/>
<line x1="199.8" y1="156.945" x2="200.8" y2="156.945" stroke="#666" stroke-width="0.6"/>
<line x1="199.8" y1="154.7775" x2="200.8" y2="154.7775" stroke="#666" stroke-width="0.6"/>
<line x1="199.8" y1="152.61" x2="200.8" y2="152.61" stroke="#666" stroke-width="0.6"/>
<line x1="199.8" y1="150.4425" x2="200.8" y2="150.4425" stroke="#666" stroke-width="0.6"/>
<line x1="199.8" y1="148.275" x2="200.8" y2="148.275" stroke="#666" stroke-width="0.6"/>
<line x1="199.8" y1="146.1075" x2="200.8" y2="146.1075" stroke="#666" stroke-width="0.6"/>
<line x1="199.8" y1="143.94" x2="200.8" y2="143.94" stroke="#666" stroke-width="0.6"/>
<line x1="199.8" y1="141.7725" x2="200.8" y2="141.7725" stroke="#666" stroke-width="0.6"/>
<line x1="199.8" y1="139.605" x2="200.8" y2="139.605" stroke="#666" stroke-width="0.6"/>
<line x1="199.8" y1="137.4375" x2="200.8" y2="137.4375" stroke="#666" stroke-width="0.6"/>
<line x1="199.8" y1="135.26999999999998" x2="200.8" y2="135.26999999999998" stroke="#666" stroke-width="0.6"/>
<line x1="199.8" y1="133.1025" x2="200.8" y2="133.1025" stroke="#666" stroke-width="0.6"/>
<line x1="199.8" y1="130.935" x2="200.8" y2="130.935" stroke="#666" stroke-width="0.6"/>
<line x1="199.8" y1="128.76749999999998" x2="200.8" y2="128.76749999999998" stroke="#666" stroke-width="0.6"/>
<line x1="344.5" y1="126.6" x2="479.3" y2="126.6" stroke="#666" stroke-width="1.2"/>
<line x1="479.3" y1="126.6" x2="479.3" y2="213.3" stroke="#777" stroke-width="1.1"/>
<line x1="344.5" y1="126.1" x2="344.5" y2="213.9" stroke="#333" stroke-width="1.1"/>
<line x1="344.5" y1="213.3" x2="479.3" y2="213.3" stroke="#3a3a3a" stroke-width="1.1"/>
<line x1="342.9" y1="213.3" x2="344.5" y2="213.3" stroke="#444" stroke-width="0.7"/>
<line x1="342.9" y1="202.4625" x2="344.5" y2="202.4625" stroke="#444" stroke-width="0.7"/>
<line x1="342.9" y1="191.625" x2="344.5" y2="191.625" stroke="#444" stroke-width="0.7"/>
<line x1="342.9" y1="180.78750000000002" x2="344.5" y2="180.78750000000002" stroke="#444" stroke-width="0.7"/>
<line x1="342.9" y1="169.95" x2="344.5" y2="169.95" stroke="#444" stroke-width="0.7"/>
<line x1="342.9" y1="159.1125" x2="344.5" y2="159.1125" stroke="#444" stroke-width="0.7"/>
<line x1="342.9" y1="148.275" x2="344.5" y2="148.275" stroke="#444" stroke-width="0.7"/>
<line x1="342.9" y1="137.4375" x2="344.5" y2="137.4375" stroke="#444" stroke-width="0.7"/>
<line x1="342.9" y1="126.6" x2="344.5" y2="126.6" stroke="#444" stroke-width="0.7"/>
<line x1="343.5" y1="213.3" x2="344.5" y2="213.3" stroke="#666" stroke-width="0.6"/>
<line x1="343.5" y1="211.13250000000002" x2="344.5" y2="211.13250000000002" stroke="#666" stroke-width="0.6"/>
<line x1="343.5" y1="208.965" x2="344.5" y2="208.965" stroke="#666" stroke-width="0.6"/>
<line x1="343.5" y1="206.7975" x2="344.5" y2="206.7975" stroke="#666" stroke-width="0.6"/>
<line x1="343.5" y1="204.63" x2="344.5" y2="204.63" stroke="#666" stroke-width="0.6"/>
<line x1="343.5" y1="202.4625" x2="344.5" y2="202.4625" stroke="#666" stroke-width="0.6"/>
<line x1="343.5" y1="200.29500000000002" x2="344.5" y2="200.29500000000002" stroke="#666" stroke-width="0.6"/>
<line x1="343.5" y1="198.1275" x2="344.5" y2="198.1275" stroke="#666" stroke-width="0.6"/>
<line x1="343.5" y1="195.96" x2="344.5" y2="195.96" stroke="#666" stroke-width="0.6"/>
<line x1="343.5" y1="193.79250000000002" x2="344.5" y2="193.79250000000002" stroke="#666" stroke-width="0.6"/>
<line x1="343.5" y1="191.625" x2="344.5" y2="191.625" stroke="#666" stroke-width="0.6"/>
<line x1="343.5" y1="189.4575" x2="344.5" y2="189.4575" stroke="#666" stroke-width="0.6"/>
<line x1="343.5" y1="187.29000000000002" x2="344.5" y2="187.29000000000002" stroke="#666" stroke-width="0.6"/>
<line x1="343.5" y1="185.1225" x2="344.5" y2="185.1225" stroke="#666" stroke-width="0.6"/>
<line x1="343.5" y1="182.955" x2="344.5" y2="182.955" stroke="#666" stroke-width="0.6"/>
<line x1="343.5" y1="180.78750000000002" x2="344.5" y2="180.78750000000002" stroke="#666" stroke-width="0.6"/>
<line x1="343.5" y1="178.62" x2="344.5" y2="178.62" stroke="#666" stroke-width="0.6"/>
<line x1="343.5" y1="176.4525" x2="344.5" y2="176.4525" stroke="#666" stroke-width="0.6"/>
<line x1="343.5" y1="174.285" x2="344.5" y2="174.285" stroke="#666" stroke-width="0.6"/>
<line x1="343.5" y1="172.1175" x2="344.5" y2="172.1175" stroke="#666" stroke-width="0.6"/>
<line x1="343.5" y1="169.95" x2="344.5" y2="169.95" stroke="#666" stroke-width="0.6"/>
<line x1="343.5" y1="167.7825" x2="344.5" y2="167.7825" stroke="#666" stroke-width="0.6"/>
<line x1="343.5" y1="165.615" x2="344.5" y2="165.615" stroke="#666" stroke-width="0.6"/>
<line x1="343.5" y1="163.4475" x2="344.5" y2="163.4475" stroke="#666" stroke-width="0.6"/>
<line x1="343.5" y1="161.28" x2="344.5" y2="161.28" stroke="#666" stroke-width="0.6"/>
<line x1="343.5" y1="159.1125" x2="344.5" y2="159.1125" stroke="#666" stroke-width="0.6"/>
<line x1="343.5" y1="156.945" x2="344.5" y2="156.945" stroke="#666" stroke-width="0.6"/>
<line x1="343.5" y1="154.7775" x2="344.5" y2="154.7775" stroke="#666" stroke-width="0.6"/>
<line x1="343.5" y1="152.61" x2="344.5" y2="152.61" stroke="#666" stroke-width="0.6"/>
<line x1="343.5" y1="150.4425" x2="344.5" y2="150.4425" stroke="#666" stroke-width="0.6"/>
<line x1="343.5" y1="148.275" x2="344.5" y2="148.275" stroke="#666" stroke-width="0.6"/>
<line x1="343.5" y1="146.1075" x2="344.5" y2="146.1075" stroke="#666" stroke-width="0.6"/>
<line x1="343.5" y1="143.94" x2="344.5" y2="143.94" stroke="#666" stroke-width="0.6"/>
<line x1="343.5" y1="141.7725" x2="344.5" y2="141.7725" stroke="#666" stroke-width="0.6"/>
<line x1="343.5" y1="139.605" x2="344.5" y2="139.605" stroke="#666" stroke-width="0.6"/>
<line x1="343.5" y1="137.4375" x2="344.5" y2="137.4375" stroke="#666" stroke-width="0.6"/>
<line x1="343.5" y1="135.26999999999998" x2="344.5" y2="135.26999999999998" stroke="#666" stroke-width="0.6"/>
<line x1="343.5" y1="133.1025" x2="344.5" y2="133.1025" stroke="#666" stroke-width="0.6"/>
<line x1="343.5" y1="130.935" x2="344.5" y2="130.935" stroke="#666" stroke-width="0.6"/>
<line x1="343.5" y1="128.76749999999998" x2="344.5" y2="128.76749999999998" stroke="#666" stroke-width="0.6"/>
<text transform="translate(55.5,213.6) rotate(-90)" font-size="7.0" text-anchor="middle" font-weight="bold" fill="#1a1a1a" stroke="#1a1a1a" stroke-width="0.2" >0</text>
<text transform="translate(55.5,202.79999999999998) rotate(-90)" font-size="7.0" text-anchor="middle" font-weight="bold" fill="#1a1a1a" stroke="#1a1a1a" stroke-width="0.2" textLength="7.0" lengthAdjust="spacingAndGlyphs" >10</text>
<text transform="translate(55.5,192.0) rotate(-90)" font-size="7.0" text-anchor="middle" font-weight="bold" fill="#1a1a1a" stroke="#1a1a1a" stroke-width="0.2" textLength="7.0" lengthAdjust="spacingAndGlyphs" >20</text>
<text transform="translate(55.5,181.2) rotate(-90)" font-size="7.0" text-anchor="middle" font-weight="bold" fill="#1a1a1a" stroke="#1a1a1a" stroke-width="0.2" textLength="7.0" lengthAdjust="spacingAndGlyphs" >30</text>
<text transform="translate(55.5,170.39999999999998) rotate(-90)" font-size="7.0" text-anchor="middle" font-weight="bold" fill="#1a1a1a" stroke="#1a1a1a" stroke-width="0.2" textLength="7.0" lengthAdjust="spacingAndGlyphs" >40</text>
<text transform="translate(55.5,159.6) rotate(-90)" font-size="7.0" text-anchor="middle" font-weight="bold" fill="#1a1a1a" stroke="#1a1a1a" stroke-width="0.2" textLength="7.0" lengthAdjust="spacingAndGlyphs" >50</text>
<text transform="translate(55.5,148.79999999999998) rotate(-90)" font-size="7.0" text-anchor="middle" font-weight="bold" fill="#1a1a1a" stroke="#1a1a1a" stroke-width="0.2" textLength="7.0" lengthAdjust="spacingAndGlyphs" >60</text>
<text transform="translate(55.5,138.0) rotate(-90)" font-size="7.0" text-anchor="middle" font-weight="bold" fill="#1a1a1a" stroke="#1a1a1a" stroke-width="0.2" textLength="7.0" lengthAdjust="spacingAndGlyphs" >70</text>
<text transform="translate(55.5,127.19999999999999) rotate(-90)" font-size="7.0" text-anchor="middle" font-weight="bold" fill="#1a1a1a" stroke="#1a1a1a" stroke-width="0.2" textLength="7.0" lengthAdjust="spacingAndGlyphs" >80</text>
<text transform="translate(46.4,171.6) rotate(-90)" font-size="7" text-anchor="middle" font-weight="bold" fill="#222" stroke="#222" stroke-width="0.2" textLength="24" lengthAdjust="spacingAndGlyphs" >Counts</text>
<line x1="142.8" y1="38.5" x2="193" y2="38.5" stroke="#777" stroke-width="1.1"/>
<line x1="142.8" y1="36.2" x2="142.8" y2="40.8" stroke="#777" stroke-width="0.9"/>
<text x="168" y="36.9" font-size="9.6" text-anchor="middle" font-weight="normal" fill="#1a1a1a" stroke="#1a1a1a" stroke-width="0.2" textLength="12.6" lengthAdjust="spacingAndGlyphs" >1%</text>
<line x1="287.2" y1="38.5" x2="337.6" y2="38.5" stroke="#777" stroke-width="1.1"/>
<line x1="287.2" y1="36.2" x2="287.2" y2="40.8" stroke="#777" stroke-width="0.9"/>
<text x="312.3" y="36.9" font-size="9.6" text-anchor="middle" font-weight="normal" fill="#1a1a1a" stroke="#1a1a1a" stroke-width="0.2" textLength="19.48" lengthAdjust="spacingAndGlyphs" >73%</text>
<line x1="431.3" y1="38.4" x2="481.7" y2="38.4" stroke="#777" stroke-width="1.1"/>
<line x1="431.3" y1="36.1" x2="431.3" y2="40.699999999999996" stroke="#777" stroke-width="0.9"/>
<text x="456.6" y="36.9" font-size="9.6" text-anchor="middle" font-weight="normal" fill="#1a1a1a" stroke="#1a1a1a" stroke-width="0.2" textLength="19.48" lengthAdjust="spacingAndGlyphs" >61%</text>
<line x1="141.3" y1="143.1" x2="191.6" y2="143.1" stroke="#777" stroke-width="1.1"/>
<line x1="141.3" y1="140.79999999999998" x2="141.3" y2="145.4" stroke="#777" stroke-width="0.9"/>
<text x="167.5" y="140.9" font-size="9.6" text-anchor="middle" font-weight="normal" fill="#1a1a1a" stroke="#1a1a1a" stroke-width="0.2" textLength="12.6" lengthAdjust="spacingAndGlyphs" >1%</text>
<line x1="284.6" y1="143.1" x2="335.1" y2="143.1" stroke="#777" stroke-width="1.1"/>
<line x1="284.6" y1="140.79999999999998" x2="284.6" y2="145.4" stroke="#777" stroke-width="0.9"/>
<text x="312" y="140.9" font-size="9.6" text-anchor="middle" font-weight="normal" fill="#1a1a1a" stroke="#1a1a1a" stroke-width="0.2" textLength="19.48" lengthAdjust="spacingAndGlyphs" >35%</text>
<line x1="428.7" y1="142.9" x2="479.3" y2="142.9" stroke="#777" stroke-width="1.1"/>
<line x1="428.7" y1="140.6" x2="428.7" y2="145.20000000000002" stroke="#777" stroke-width="0.9"/>
<text x="455.5" y="140.9" font-size="9.6" text-anchor="middle" font-weight="normal" fill="#1a1a1a" stroke="#1a1a1a" stroke-width="0.2" textLength="12.6" lengthAdjust="spacingAndGlyphs" >1%</text>
<text x="52.0" y="223" font-size="6.5" fill="#1a1a1a" stroke="#1a1a1a" stroke-width="0.25" letter-spacing="0.3">10<tspan dy="-3.0" font-size="5.8" stroke-width="0.05">0</tspan></text>
<text x="85.6" y="223" font-size="6.5" fill="#1a1a1a" stroke="#1a1a1a" stroke-width="0.25" letter-spacing="0.3">10<tspan dy="-3.0" font-size="5.8" stroke-width="0.05">1</tspan></text>
<text x="119.19999999999999" y="223" font-size="6.5" fill="#1a1a1a" stroke="#1a1a1a" stroke-width="0.25" letter-spacing="0.3">10<tspan dy="-3.0" font-size="5.8" stroke-width="0.05">2</tspan></text>
<text x="152.8" y="223" font-size="6.5" fill="#1a1a1a" stroke="#1a1a1a" stroke-width="0.25" letter-spacing="0.3">10<tspan dy="-3.0" font-size="5.8" stroke-width="0.05">3</tspan></text>
<text x="186.39999999999998" y="223" font-size="6.5" fill="#1a1a1a" stroke="#1a1a1a" stroke-width="0.25" letter-spacing="0.3">10<tspan dy="-3.0" font-size="5.8" stroke-width="0.05">4</tspan></text>
<text x="124.9" y="228.5" font-size="6.4" text-anchor="middle" fill="#1a1a1a" stroke="#1a1a1a" stroke-width="0.12" textLength="21.6" lengthAdjust="spacingAndGlyphs">FL1-H</text>
<text x="199.8" y="223" font-size="6.5" fill="#1a1a1a" stroke="#1a1a1a" stroke-width="0.25" letter-spacing="0.3">0<tspan dy="-3.0" font-size="5.8" stroke-width="0.05">0</tspan></text>
<text x="229.175" y="223" font-size="6.5" fill="#1a1a1a" stroke="#1a1a1a" stroke-width="0.25" letter-spacing="0.3">10<tspan dy="-3.0" font-size="5.8" stroke-width="0.05">1</tspan></text>
<text x="262.75000000000006" y="223" font-size="6.5" fill="#1a1a1a" stroke="#1a1a1a" stroke-width="0.25" letter-spacing="0.3">10<tspan dy="-3.0" font-size="5.8" stroke-width="0.05">2</tspan></text>
<text x="296.32500000000005" y="223" font-size="6.5" fill="#1a1a1a" stroke="#1a1a1a" stroke-width="0.25" letter-spacing="0.3">10<tspan dy="-3.0" font-size="5.8" stroke-width="0.05">3</tspan></text>
<text x="329.90000000000003" y="223" font-size="6.5" fill="#1a1a1a" stroke="#1a1a1a" stroke-width="0.25" letter-spacing="0.3">10<tspan dy="-3.0" font-size="5.8" stroke-width="0.05">4</tspan></text>
<text x="268.45000000000005" y="228.5" font-size="6.4" text-anchor="middle" fill="#1a1a1a" stroke="#1a1a1a" stroke-width="0.12" textLength="21.6" lengthAdjust="spacingAndGlyphs">FL1-H</text>
<text x="343.5" y="223" font-size="6.5" fill="#1a1a1a" stroke="#1a1a1a" stroke-width="0.25" letter-spacing="0.3">0<tspan dy="-3.0" font-size="5.8" stroke-width="0.05">0</tspan></text>
<text x="373.0" y="223" font-size="6.5" fill="#1a1a1a" stroke="#1a1a1a" stroke-width="0.25" letter-spacing="0.3">10<tspan dy="-3.0" font-size="5.8" stroke-width="0.05">1</tspan></text>
<text x="406.7" y="223" font-size="6.5" fill="#1a1a1a" stroke="#1a1a1a" stroke-width="0.25" letter-spacing="0.3">10<tspan dy="-3.0" font-size="5.8" stroke-width="0.05">2</tspan></text>
<text x="440.40000000000003" y="223" font-size="6.5" fill="#1a1a1a" stroke="#1a1a1a" stroke-width="0.25" letter-spacing="0.3">10<tspan dy="-3.0" font-size="5.8" stroke-width="0.05">3</tspan></text>
<text x="474.1" y="223" font-size="6.5" fill="#1a1a1a" stroke="#1a1a1a" stroke-width="0.25" letter-spacing="0.3">10<tspan dy="-3.0" font-size="5.8" stroke-width="0.05">4</tspan></text>
<text x="412.4" y="228.5" font-size="6.4" text-anchor="middle" fill="#1a1a1a" stroke="#1a1a1a" stroke-width="0.12" textLength="21.6" lengthAdjust="spacingAndGlyphs">FL1-H</text>
<line x1="56.2" y1="234.8" x2="478" y2="234.8" stroke="#333" stroke-width="1.4"/>
<path d="M483.3,234.8 L476.2,231.4 L478.3,234.8 L476.2,238.3 Z" fill="#111"/>
<text x="265.4" y="246.9" font-size="8.5" text-anchor="middle" font-weight="normal" fill="#111" stroke="#111" stroke-width="0.2" textLength="81.5" lengthAdjust="spacingAndGlyphs" >Caspase positive cells</text>
<text x="0.4" y="271.8" font-size="17" text-anchor="start" font-weight="bold" fill="#000" stroke="#000" stroke-width="0.2" >B</text>
<line x1="37.5" y1="278.4" x2="37.5" y2="519.5" stroke="#6a6a6a" stroke-width="1"/>
<line x1="35.8" y1="519.5" x2="258.2" y2="519.5" stroke="#4a4a4a" stroke-width="1"/>
<text x="35.7" y="522.6" font-size="8.2" text-anchor="end" font-weight="normal" fill="#1a1a1a" stroke="#1a1a1a" stroke-width="0.2" >0</text>
<line x1="36.0" y1="520.5" x2="37.5" y2="520.5" stroke="#888" stroke-width="0.8"/>
<text x="35.7" y="495.8" font-size="8.2" text-anchor="end" font-weight="normal" fill="#1a1a1a" stroke="#1a1a1a" stroke-width="0.2" textLength="9.0" lengthAdjust="spacingAndGlyphs" >10</text>
<line x1="36.0" y1="493.5" x2="37.5" y2="493.5" stroke="#888" stroke-width="0.8"/>
<text x="35.7" y="469.0" font-size="8.2" text-anchor="end" font-weight="normal" fill="#1a1a1a" stroke="#1a1a1a" stroke-width="0.2" textLength="9.0" lengthAdjust="spacingAndGlyphs" >20</text>
<line x1="36.0" y1="466.5" x2="37.5" y2="466.5" stroke="#888" stroke-width="0.8"/>
<text x="35.7" y="442.20000000000005" font-size="8.2" text-anchor="end" font-weight="normal" fill="#1a1a1a" stroke="#1a1a1a" stroke-width="0.2" textLength="9.0" lengthAdjust="spacingAndGlyphs" >30</text>
<line x1="36.0" y1="439.5" x2="37.5" y2="439.5" stroke="#888" stroke-width="0.8"/>
<text x="35.7" y="415.40000000000003" font-size="8.2" text-anchor="end" font-weight="normal" fill="#1a1a1a" stroke="#1a1a1a" stroke-width="0.2" textLength="9.0" lengthAdjust="spacingAndGlyphs" >40</text>
<line x1="36.0" y1="412.5" x2="37.5" y2="412.5" stroke="#888" stroke-width="0.8"/>
<text x="35.7" y="388.6" font-size="8.2" text-anchor="end" font-weight="normal" fill="#1a1a1a" stroke="#1a1a1a" stroke-width="0.2" textLength="9.0" lengthAdjust="spacingAndGlyphs" >50</text>
<line x1="36.0" y1="386.5" x2="37.5" y2="386.5" stroke="#888" stroke-width="0.8"/>
<text x="35.7" y="361.8" font-size="8.2" text-anchor="end" font-weight="normal" fill="#1a1a1a" stroke="#1a1a1a" stroke-width="0.2" textLength="9.0" lengthAdjust="spacingAndGlyphs" >60</text>
<line x1="36.0" y1="359.5" x2="37.5" y2="359.5" stroke="#888" stroke-width="0.8"/>
<text x="35.7" y="335.0" font-size="8.2" text-anchor="end" font-weight="normal" fill="#1a1a1a" stroke="#1a1a1a" stroke-width="0.2" textLength="9.0" lengthAdjust="spacingAndGlyphs" >70</text>
<line x1="36.0" y1="332.5" x2="37.5" y2="332.5" stroke="#888" stroke-width="0.8"/>
<text x="35.7" y="308.20000000000005" font-size="8.2" text-anchor="end" font-weight="normal" fill="#1a1a1a" stroke="#1a1a1a" stroke-width="0.2" textLength="9.0" lengthAdjust="spacingAndGlyphs" >80</text>
<line x1="36.0" y1="305.5" x2="37.5" y2="305.5" stroke="#888" stroke-width="0.8"/>
<text x="35.7" y="281.4" font-size="8.2" text-anchor="end" font-weight="normal" fill="#1a1a1a" stroke="#1a1a1a" stroke-width="0.2" textLength="9.0" lengthAdjust="spacingAndGlyphs" >90</text>
<line x1="36.0" y1="278.5" x2="37.5" y2="278.5" stroke="#888" stroke-width="0.8"/>
<text transform="translate(21.7,392.0) rotate(-90)" font-size="9.8" text-anchor="middle" font-weight="normal" fill="#1a1a1a" stroke="#1a1a1a" stroke-width="0.2" textLength="132.2" lengthAdjust="spacingAndGlyphs" >% specific caspase positive cells</text>
<line x1="47.5" y1="443" x2="47.5" y2="430" stroke="#1a1a1a" stroke-width="1"/>
<line x1="46.5" y1="430.5" x2="48.5" y2="430.5" stroke="#1a1a1a" stroke-width="1"/>
<rect x="43.5" y="443.5" width="7" height="76.10000000000002" fill="#fff" stroke="#1a1a1a" stroke-width="1"/>
<line x1="55.5" y1="495" x2="55.5" y2="482" stroke="#1a1a1a" stroke-width="1"/>
<line x1="54.5" y1="482.5" x2="56.5" y2="482.5" stroke="#1a1a1a" stroke-width="1"/>
<rect x="51" y="495" width="9" height="24.600000000000023" fill="#111" stroke="none" stroke-width="1"/>
<line x1="74.5" y1="382" x2="74.5" y2="355" stroke="#1a1a1a" stroke-width="1"/>
<line x1="73.5" y1="355.5" x2="75.5" y2="355.5" stroke="#1a1a1a" stroke-width="1"/>
<rect x="70.5" y="382.5" width="8" height="137.10000000000002" fill="#fff" stroke="#1a1a1a" stroke-width="1"/>
<line x1="82.5" y1="472" x2="82.5" y2="452" stroke="#1a1a1a" stroke-width="1"/>
<line x1="81.5" y1="452.5" x2="83.5" y2="452.5" stroke="#1a1a1a" stroke-width="1"/>
<rect x="79" y="472" width="8" height="47.60000000000002" fill="#111" stroke="none" stroke-width="1"/>
<line x1="102.5" y1="344" x2="102.5" y2="320" stroke="#1a1a1a" stroke-width="1"/>
<line x1="101.5" y1="320.5" x2="103.5" y2="320.5" stroke="#1a1a1a" stroke-width="1"/>
<rect x="98.5" y="344.5" width="7" height="175.10000000000002" fill="#fff" stroke="#1a1a1a" stroke-width="1"/>
<line x1="110.5" y1="439" x2="110.5" y2="418" stroke="#1a1a1a" stroke-width="1"/>
<line x1="109.5" y1="418.5" x2="111.5" y2="418.5" stroke="#1a1a1a" stroke-width="1"/>
<rect x="106" y="439" width="9" height="80.60000000000002" fill="#111" stroke="none" stroke-width="1"/>
<line x1="129.5" y1="322" x2="129.5" y2="299" stroke="#1a1a1a" stroke-width="1"/>
<line x1="128.5" y1="299.5" x2="130.5" y2="299.5" stroke="#1a1a1a" stroke-width="1"/>
<rect x="126.5" y="322.5" width="7" height="197.10000000000002" fill="#fff" stroke="#1a1a1a" stroke-width="1"/>
<line x1="137.5" y1="425" x2="137.5" y2="405" stroke="#1a1a1a" stroke-width="1"/>
<line x1="136.5" y1="405.5" x2="138.5" y2="405.5" stroke="#1a1a1a" stroke-width="1"/>
<rect x="134" y="425" width="8" height="94.60000000000002" fill="#111" stroke="none" stroke-width="1"/>
<line x1="157.5" y1="441" x2="157.5" y2="425" stroke="#1a1a1a" stroke-width="1"/>
<line x1="156.5" y1="425.5" x2="158.5" y2="425.5" stroke="#1a1a1a" stroke-width="1"/>
<rect x="153.5" y="441.5" width="7" height="78.10000000000002" fill="#fff" stroke="#1a1a1a" stroke-width="1"/>
<rect x="161" y="518.0" width="8" height="1.6" fill="#222" stroke="none" stroke-width="1"/>
<line x1="184.5" y1="408" x2="184.5" y2="386" stroke="#1a1a1a" stroke-width="1"/>
<line x1="183.5" y1="386.5" x2="185.5" y2="386.5" stroke="#1a1a1a" stroke-width="1"/>
<rect x="181.5" y="408.5" width="7" height="111.10000000000002" fill="#fff" stroke="#1a1a1a" stroke-width="1"/>
<rect x="189" y="518.0" width="8" height="1.6" fill="#222" stroke="none" stroke-width="1"/>
<line x1="212.5" y1="379" x2="212.5" y2="362" stroke="#1a1a1a" stroke-width="1"/>
<line x1="211.5" y1="362.5" x2="213.5" y2="362.5" stroke="#1a1a1a" stroke-width="1"/>
<rect x="208.5" y="379.5" width="7" height="140.10000000000002" fill="#fff" stroke="#1a1a1a" stroke-width="1"/>
<line x1="220.5" y1="517" x2="220.5" y2="516" stroke="#1a1a1a" stroke-width="1"/>
<line x1="219.5" y1="516.5" x2="221.5" y2="516.5" stroke="#1a1a1a" stroke-width="1"/>
<rect x="216" y="517" width="9" height="2.6000000000000227" fill="#111" stroke="none" stroke-width="1"/>
<line x1="239.5" y1="357" x2="239.5" y2="341" stroke="#1a1a1a" stroke-width="1"/>
<line x1="238.5" y1="341.5" x2="240.5" y2="341.5" stroke="#1a1a1a" stroke-width="1"/>
<rect x="236.5" y="357.5" width="7" height="162.10000000000002" fill="#fff" stroke="#1a1a1a" stroke-width="1"/>
<line x1="247.5" y1="516" x2="247.5" y2="513" stroke="#1a1a1a" stroke-width="1"/>
<line x1="246.5" y1="513.5" x2="248.5" y2="513.5" stroke="#1a1a1a" stroke-width="1"/>
<rect x="244" y="516" width="8" height="3.6000000000000227" fill="#111" stroke="none" stroke-width="1"/>
<text x="57.75" y="529.7" font-size="8.4" text-anchor="middle" font-weight="normal" fill="#1a1a1a" stroke="#1a1a1a" stroke-width="0.2" textLength="29.9" lengthAdjust="spacingAndGlyphs" >(0.25:1)</text>
<text x="84.1" y="529.7" font-size="8.4" text-anchor="middle" font-weight="normal" fill="#1a1a1a" stroke="#1a1a1a" stroke-width="0.2" textLength="25.0" lengthAdjust="spacingAndGlyphs" >(0.5:1)</text>
<text x="110.65" y="529.7" font-size="8.4" text-anchor="middle" font-weight="normal" fill="#1a1a1a" stroke="#1a1a1a" stroke-width="0.2" textLength="18.1" lengthAdjust="spacingAndGlyphs" >(1:1)</text>
<text x="137.2" y="529.7" font-size="8.4" text-anchor="middle" font-weight="normal" fill="#1a1a1a" stroke="#1a1a1a" stroke-width="0.2" textLength="18.1" lengthAdjust="spacingAndGlyphs" >(2:1)</text>
<text x="163.45" y="529.7" font-size="8.4" text-anchor="middle" font-weight="normal" fill="#1a1a1a" stroke="#1a1a1a" stroke-width="0.2" >2.5</text>
<text x="189.7" y="529.7" font-size="8.4" text-anchor="middle" font-weight="normal" fill="#1a1a1a" stroke="#1a1a1a" stroke-width="0.2" >5</text>
<text x="217.5" y="529.7" font-size="8.4" text-anchor="middle" font-weight="normal" fill="#1a1a1a" stroke="#1a1a1a" stroke-width="0.2" >10</text>
<text x="245.45" y="529.7" font-size="8.4" text-anchor="middle" font-weight="normal" fill="#1a1a1a" stroke="#1a1a1a" stroke-width="0.2" >20</text>
<line x1="38.5" y1="534.8" x2="147" y2="534.8" stroke="#555" stroke-width="1.4"/>
<line x1="148.5" y1="534.8" x2="258.2" y2="534.8" stroke="#555" stroke-width="1.4"/>
<text x="98.8" y="547.4" font-size="9.3" text-anchor="middle" font-weight="normal" fill="#1a1a1a" stroke="#1a1a1a" stroke-width="0.2" textLength="40.6" lengthAdjust="spacingAndGlyphs" >CTL (E:T)</text>
<text x="203.9" y="547.4" font-size="9.3" text-anchor="middle" font-weight="normal" fill="#1a1a1a" stroke="#1a1a1a" stroke-width="0.2" textLength="35.8" lengthAdjust="spacingAndGlyphs" >grB (nM)</text>
<rect x="223.2" y="277.3" width="28.8" height="19.5" fill="#fff" stroke="#222" stroke-width="1.2"/>
<rect x="227.7" y="281.1" width="3.4" height="3.3" fill="#fff" stroke="#1a1a1a" stroke-width="1.0"/>
<rect x="227.3" y="290.2" width="4.2" height="4.0" fill="#111" stroke="none" stroke-width="1"/>
<text x="233.0" y="285.2" font-size="6.1" text-anchor="start" font-weight="normal" fill="#1a1a1a" stroke="#1a1a1a" stroke-width="0.2" textLength="13.6" lengthAdjust="spacingAndGlyphs" >Jneo</text>
<text x="233.0" y="294.4" font-size="6.1" text-anchor="start" font-weight="normal" fill="#1a1a1a" stroke="#1a1a1a" stroke-width="0.2" textLength="15.0" lengthAdjust="spacingAndGlyphs" >JBcl2</text>
<text x="301.6" y="272.4" font-size="16.8" text-anchor="start" font-weight="bold" fill="#000" stroke="#000" stroke-width="0.2" >C</text>
<line x1="331.5" y1="276.6" x2="331.5" y2="517.5" stroke="#6a6a6a" stroke-width="1"/>
<line x1="329.8" y1="517.5" x2="494.6" y2="517.5" stroke="#4a4a4a" stroke-width="1"/>
<text x="330.7" y="520.5" font-size="8.2" text-anchor="end" font-weight="normal" fill="#1a1a1a" stroke="#1a1a1a" stroke-width="0.2" >0</text>
<line x1="330.0" y1="518.5" x2="331.5" y2="518.5" stroke="#888" stroke-width="0.8"/>
<text x="330.7" y="480.25" font-size="8.2" text-anchor="end" font-weight="normal" fill="#1a1a1a" stroke="#1a1a1a" stroke-width="0.2" textLength="9.0" lengthAdjust="spacingAndGlyphs" >10</text>
<line x1="330.0" y1="477.5" x2="331.5" y2="477.5" stroke="#888" stroke-width="0.8"/>
<text x="330.7" y="440.0" font-size="8.2" text-anchor="end" font-weight="normal" fill="#1a1a1a" stroke="#1a1a1a" stroke-width="0.2" textLength="9.0" lengthAdjust="spacingAndGlyphs" >20</text>
<line x1="330.0" y1="437.5" x2="331.5" y2="437.5" stroke="#888" stroke-width="0.8"/>
<text x="330.7" y="399.75" font-size="8.2" text-anchor="end" font-weight="normal" fill="#1a1a1a" stroke="#1a1a1a" stroke-width="0.2" textLength="9.0" lengthAdjust="spacingAndGlyphs" >30</text>
<line x1="330.0" y1="397.5" x2="331.5" y2="397.5" stroke="#888" stroke-width="0.8"/>
<text x="330.7" y="359.5" font-size="8.2" text-anchor="end" font-weight="normal" fill="#1a1a1a" stroke="#1a1a1a" stroke-width="0.2" textLength="9.0" lengthAdjust="spacingAndGlyphs" >40</text>
<line x1="330.0" y1="356.5" x2="331.5" y2="356.5" stroke="#888" stroke-width="0.8"/>
<text x="330.7" y="319.25" font-size="8.2" text-anchor="end" font-weight="normal" fill="#1a1a1a" stroke="#1a1a1a" stroke-width="0.2" textLength="9.0" lengthAdjust="spacingAndGlyphs" >50</text>
<line x1="330.0" y1="316.5" x2="331.5" y2="316.5" stroke="#888" stroke-width="0.8"/>
<text x="330.7" y="279.0" font-size="8.2" text-anchor="end" font-weight="normal" fill="#1a1a1a" stroke="#1a1a1a" stroke-width="0.2" textLength="9.0" lengthAdjust="spacingAndGlyphs" >60</text>
<line x1="330.0" y1="276.5" x2="331.5" y2="276.5" stroke="#888" stroke-width="0.8"/>
<text transform="translate(317.7,403.3) rotate(-90)" font-size="9.8" text-anchor="middle" font-weight="normal" fill="#1a1a1a" stroke="#1a1a1a" stroke-width="0.2" textLength="102.6" lengthAdjust="spacingAndGlyphs" >% Specific tritium release</text>
<line x1="341.5" y1="454" x2="341.5" y2="437" stroke="#1a1a1a" stroke-width="1"/>
<line x1="340.5" y1="437.5" x2="342.5" y2="437.5" stroke="#1a1a1a" stroke-width="1"/>
<rect x="337.5" y="454.5" width="7" height="63.0" fill="#fff" stroke="#1a1a1a" stroke-width="1"/>
<line x1="349.5" y1="505" x2="349.5" y2="498" stroke="#1a1a1a" stroke-width="1"/>
<line x1="348.5" y1="498.5" x2="350.5" y2="498.5" stroke="#1a1a1a" stroke-width="1"/>
<rect x="345" y="505" width="8" height="12.5" fill="#111" stroke="none" stroke-width="1"/>
<line x1="368.5" y1="365" x2="368.5" y2="337" stroke="#1a1a1a" stroke-width="1"/>
<line x1="367.5" y1="337.5" x2="369.5" y2="337.5" stroke="#1a1a1a" stroke-width="1"/>
<rect x="364.5" y="365.5" width="7" height="152.0" fill="#fff" stroke="#1a1a1a" stroke-width="1"/>
<line x1="376.5" y1="458" x2="376.5" y2="449" stroke="#1a1a1a" stroke-width="1"/>
<line x1="375.5" y1="449.5" x2="377.5" y2="449.5" stroke="#1a1a1a" stroke-width="1"/>
<rect x="372" y="458" width="8" height="59.5" fill="#111" stroke="none" stroke-width="1"/>
<line x1="395.5" y1="297" x2="395.5" y2="289" stroke="#1a1a1a" stroke-width="1"/>
<line x1="394.5" y1="289.5" x2="396.5" y2="289.5" stroke="#1a1a1a" stroke-width="1"/>
<rect x="392.5" y="297.5" width="7" height="220.0" fill="#fff" stroke="#1a1a1a" stroke-width="1"/>
<line x1="403.5" y1="398" x2="403.5" y2="350" stroke="#1a1a1a" stroke-width="1"/>
<line x1="402.5" y1="350.5" x2="404.5" y2="350.5" stroke="#1a1a1a" stroke-width="1"/>
<rect x="400" y="398" width="8" height="119.5" fill="#111" stroke="none" stroke-width="1"/>
<line x1="422.5" y1="379" x2="422.5" y2="369" stroke="#1a1a1a" stroke-width="1"/>
<line x1="421.5" y1="369.5" x2="423.5" y2="369.5" stroke="#1a1a1a" stroke-width="1"/>
<rect x="418.5" y="379.5" width="7" height="138.0" fill="#fff" stroke="#1a1a1a" stroke-width="1"/>
<line x1="430.5" y1="516" x2="430.5" y2="513" stroke="#1a1a1a" stroke-width="1"/>
<line x1="429.5" y1="513.5" x2="431.5" y2="513.5" stroke="#1a1a1a" stroke-width="1"/>
<rect x="426" y="516" width="8" height="1.5" fill="#111" stroke="none" stroke-width="1"/>
<line x1="449.5" y1="337" x2="449.5" y2="325" stroke="#1a1a1a" stroke-width="1"/>
<line x1="448.5" y1="325.5" x2="450.5" y2="325.5" stroke="#1a1a1a" stroke-width="1"/>
<rect x="446.5" y="337.5" width="7" height="180.0" fill="#fff" stroke="#1a1a1a" stroke-width="1"/>
<rect x="454" y="513" width="8" height="4.5" fill="#111" stroke="none" stroke-width="1"/>
<line x1="476.5" y1="315" x2="476.5" y2="303" stroke="#1a1a1a" stroke-width="1"/>
<line x1="475.5" y1="303.5" x2="477.5" y2="303.5" stroke="#1a1a1a" stroke-width="1"/>
<rect x="472.5" y="315.5" width="7" height="202.0" fill="#fff" stroke="#1a1a1a" stroke-width="1"/>
<line x1="484.5" y1="511" x2="484.5" y2="509" stroke="#1a1a1a" stroke-width="1"/>
<line x1="483.5" y1="509.5" x2="485.5" y2="509.5" stroke="#1a1a1a" stroke-width="1"/>
<rect x="480" y="511" width="8" height="6.5" fill="#111" stroke="none" stroke-width="1"/>
<text x="352.85" y="529.0" font-size="8.5" text-anchor="middle" font-weight="normal" fill="#1a1a1a" stroke="#1a1a1a" stroke-width="0.2" textLength="24.8" lengthAdjust="spacingAndGlyphs" >(0.6:1)</text>
<text x="377.35" y="529.0" font-size="8.5" text-anchor="middle" font-weight="normal" fill="#1a1a1a" stroke="#1a1a1a" stroke-width="0.2" textLength="18.4" lengthAdjust="spacingAndGlyphs" >(2:1)</text>
<text x="405.3" y="529.0" font-size="8.5" text-anchor="middle" font-weight="normal" fill="#1a1a1a" stroke="#1a1a1a" stroke-width="0.2" textLength="17.9" lengthAdjust="spacingAndGlyphs" >(6:1)</text>
<text x="424.6" y="529.0" font-size="8.5" text-anchor="middle" font-weight="normal" fill="#1a1a1a" stroke="#1a1a1a" stroke-width="0.2" >10</text>
<text x="451.45" y="529.0" font-size="8.5" text-anchor="middle" font-weight="normal" fill="#1a1a1a" stroke="#1a1a1a" stroke-width="0.2" >30</text>
<text x="478.45" y="529.0" font-size="8.5" text-anchor="middle" font-weight="normal" fill="#1a1a1a" stroke="#1a1a1a" stroke-width="0.2" >90</text>
<line x1="339.2" y1="534.8" x2="409.7" y2="534.8" stroke="#555" stroke-width="1.4"/>
<line x1="418.5" y1="534.8" x2="488.3" y2="534.8" stroke="#555" stroke-width="1.4"/>
<text x="377.35" y="548.1" font-size="9.3" text-anchor="middle" font-weight="normal" fill="#1a1a1a" stroke="#1a1a1a" stroke-width="0.2" textLength="40.3" lengthAdjust="spacingAndGlyphs" >CTL (E:T)</text>
<text x="453.15" y="548.1" font-size="9.3" text-anchor="middle" font-weight="normal" fill="#1a1a1a" stroke="#1a1a1a" stroke-width="0.2" textLength="36.8" lengthAdjust="spacingAndGlyphs" >grB (nM)</text>
<rect x="490.2" y="277.2" width="28.4" height="19.8" fill="#fff" stroke="#222" stroke-width="1.2"/>
<rect x="494.3" y="281.2" width="3.7" height="3.3" fill="#fff" stroke="#1a1a1a" stroke-width="1.0"/>
<rect x="493.8" y="290.3" width="4.6" height="3.9" fill="#111" stroke="none" stroke-width="1"/>
<text x="499.7" y="285.4" font-size="6.1" text-anchor="start" font-weight="normal" fill="#1a1a1a" stroke="#1a1a1a" stroke-width="0.2" textLength="13.6" lengthAdjust="spacingAndGlyphs" >Jneo</text>
<text x="499.7" y="294.6" font-size="6.1" text-anchor="start" font-weight="normal" fill="#1a1a1a" stroke="#1a1a1a" stroke-width="0.2" textLength="15.3" lengthAdjust="spacingAndGlyphs" >JBcl2</text>
</svg>
</body></html>
